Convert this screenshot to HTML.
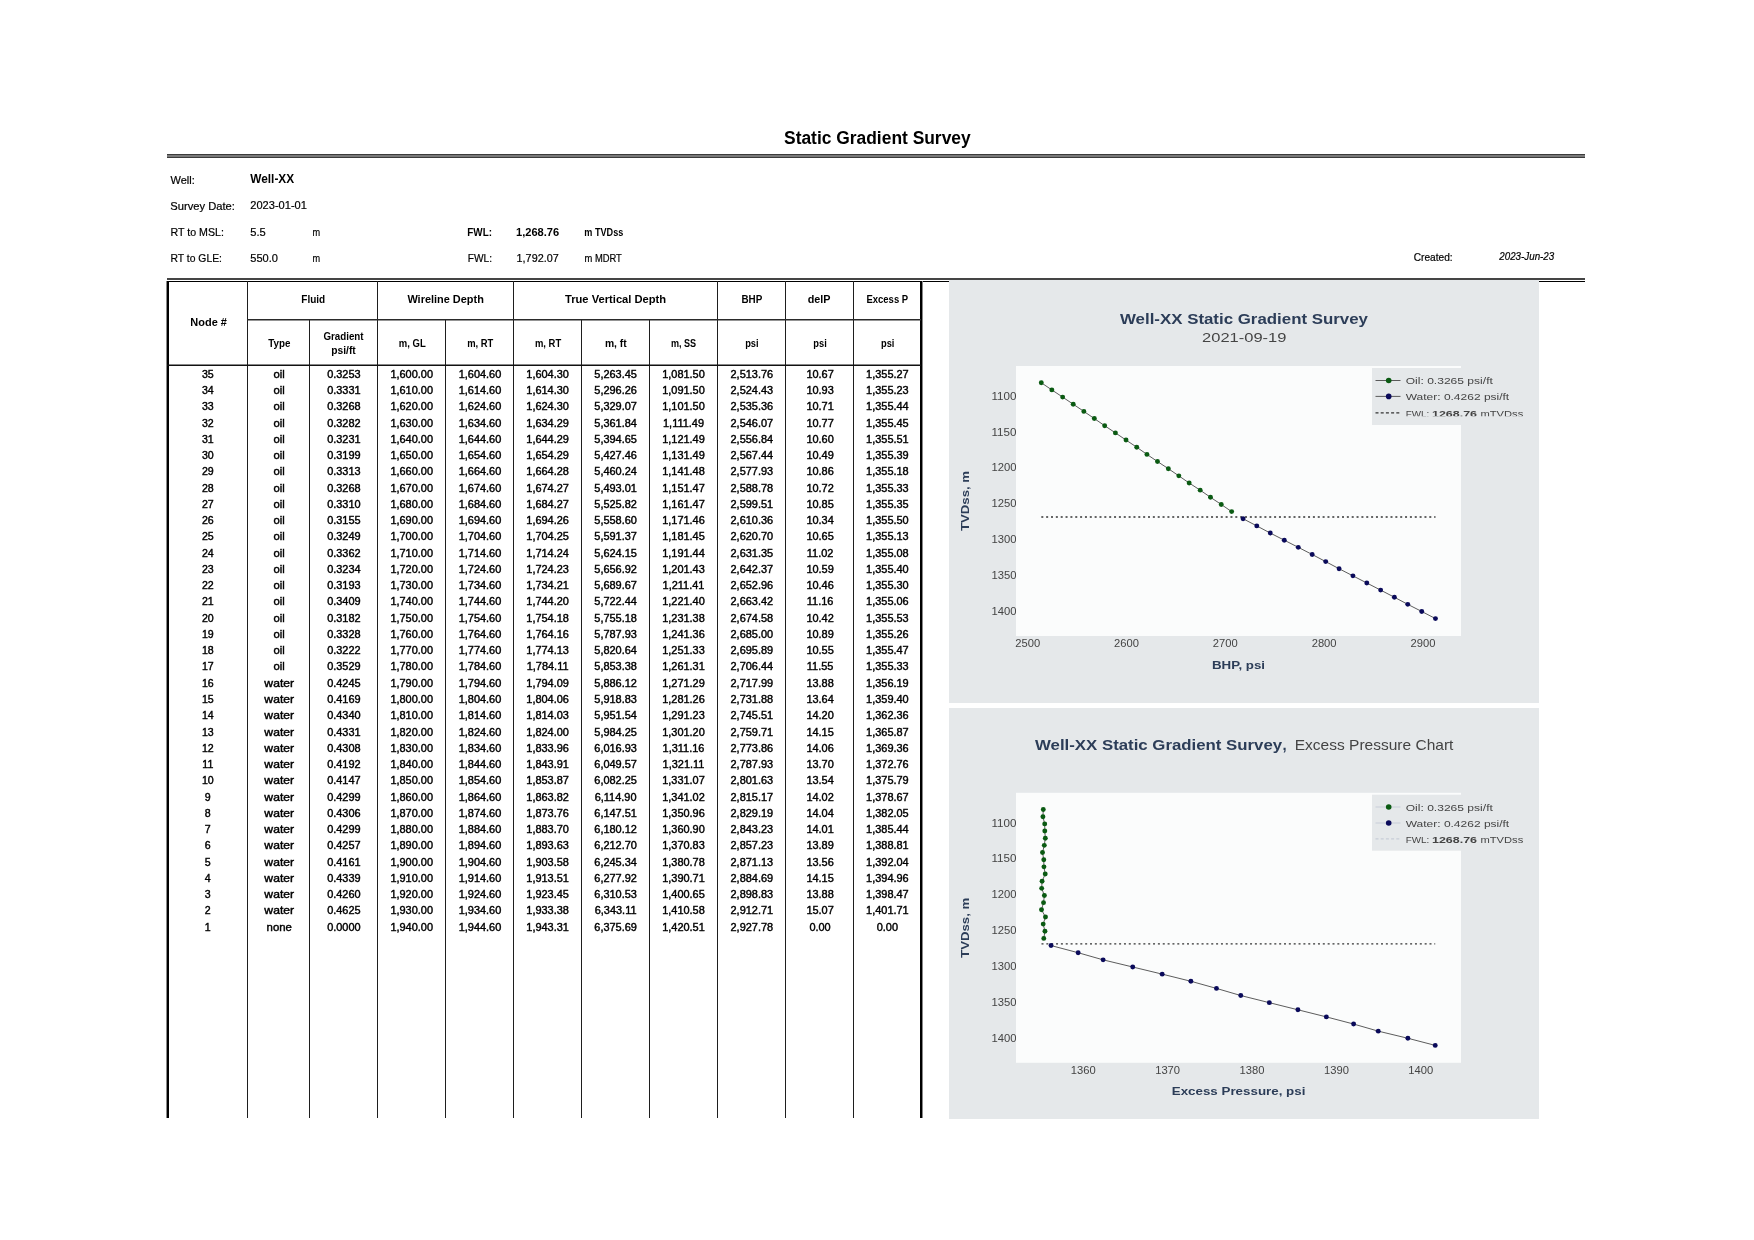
<!DOCTYPE html>
<html><head><meta charset="utf-8"><title>Static Gradient Survey</title>
<style>html,body{margin:0;padding:0;background:#fff;}svg{display:block;will-change:transform;}
text{font-family:"Liberation Sans",sans-serif;}</style></head>
<body><svg width="1754" height="1240" viewBox="0 0 1754 1240">
<rect x="0" y="0" width="1754" height="1240" fill="#fff"/>
<text x="784.05" y="144.20" font-size="18.8" font-weight="bold" font-style="normal" fill="#000" textLength="186.62" lengthAdjust="spacingAndGlyphs">Static Gradient Survey</text>
<rect x="167" y="154" width="1418" height="1" fill="#3c3c3c"/>
<rect x="167" y="155" width="1418" height="2" fill="#7a7a7a"/>
<rect x="167" y="157" width="1418" height="1" fill="#3c3c3c"/>
<text x="170.50" y="184.00" font-size="11" font-weight="normal" font-style="normal" fill="#000" stroke="#000" stroke-width="0.2">Well:</text>
<text x="250.30" y="183.20" font-size="12" font-weight="bold" font-style="normal" fill="#000" textLength="43.85" lengthAdjust="spacingAndGlyphs">Well-XX</text>
<text x="170.30" y="209.70" font-size="11" font-weight="normal" font-style="normal" fill="#000" textLength="64.60" lengthAdjust="spacingAndGlyphs" stroke="#000" stroke-width="0.2">Survey Date:</text>
<text x="250.30" y="209.20" font-size="11" font-weight="normal" font-style="normal" fill="#000" textLength="56.65" lengthAdjust="spacingAndGlyphs" stroke="#000" stroke-width="0.2">2023-01-01</text>
<text x="170.50" y="235.70" font-size="11" font-weight="normal" font-style="normal" fill="#000" textLength="53.40" lengthAdjust="spacingAndGlyphs" stroke="#000" stroke-width="0.2">RT to MSL:</text>
<text x="250.30" y="235.70" font-size="11" font-weight="normal" font-style="normal" fill="#000" textLength="15.50" lengthAdjust="spacingAndGlyphs" stroke="#000" stroke-width="0.2">5.5</text>
<text x="312.40" y="235.70" font-size="11" font-weight="normal" font-style="normal" fill="#000" textLength="7.63" lengthAdjust="spacingAndGlyphs" stroke="#000" stroke-width="0.2">m</text>
<text x="170.50" y="261.70" font-size="11" font-weight="normal" font-style="normal" fill="#000" textLength="51.45" lengthAdjust="spacingAndGlyphs" stroke="#000" stroke-width="0.2">RT to GLE:</text>
<text x="250.30" y="261.70" font-size="11" font-weight="normal" font-style="normal" fill="#000" textLength="27.72" lengthAdjust="spacingAndGlyphs" stroke="#000" stroke-width="0.2">550.0</text>
<text x="312.40" y="261.70" font-size="11" font-weight="normal" font-style="normal" fill="#000" textLength="7.63" lengthAdjust="spacingAndGlyphs" stroke="#000" stroke-width="0.2">m</text>
<text x="467.30" y="236.00" font-size="10.6" font-weight="bold" font-style="normal" fill="#000" textLength="24.68" lengthAdjust="spacingAndGlyphs">FWL:</text>
<text x="516.00" y="236.00" font-size="10.6" font-weight="bold" font-style="normal" fill="#000" textLength="43.22" lengthAdjust="spacingAndGlyphs">1,268.76</text>
<text x="584.30" y="235.50" font-size="10" font-weight="bold" font-style="normal" fill="#000" textLength="38.99" lengthAdjust="spacingAndGlyphs">m TVDss</text>
<text x="467.80" y="262.20" font-size="10.6" font-weight="normal" font-style="normal" fill="#000" textLength="24.19" lengthAdjust="spacingAndGlyphs" stroke="#000" stroke-width="0.2">FWL:</text>
<text x="516.60" y="262.20" font-size="10.6" font-weight="normal" font-style="normal" fill="#000" textLength="42.12" lengthAdjust="spacingAndGlyphs" stroke="#000" stroke-width="0.2">1,792.07</text>
<text x="584.50" y="261.80" font-size="10" font-weight="normal" font-style="normal" fill="#000" textLength="37.31" lengthAdjust="spacingAndGlyphs" stroke="#000" stroke-width="0.2">m MDRT</text>
<text x="1413.70" y="261.00" font-size="10.6" font-weight="normal" font-style="normal" fill="#000" textLength="38.95" lengthAdjust="spacingAndGlyphs" stroke="#000" stroke-width="0.2">Created:</text>
<text x="1499.30" y="260.20" font-size="10.6" font-weight="normal" font-style="italic" fill="#000" textLength="54.95" lengthAdjust="spacingAndGlyphs" stroke="#000" stroke-width="0.2">2023-Jun-23</text>
<rect x="167" y="278" width="1418" height="2" fill="#454545"/>
<rect x="166" y="281" width="783" height="1" fill="#000"/>
<rect x="1539" y="281" width="46" height="1" fill="#000"/>
<rect x="166" y="281" width="1" height="837" fill="#8a8a8a"/>
<rect x="167" y="281" width="2" height="837" fill="#000"/>
<rect x="920" y="281" width="2" height="837" fill="#000"/>
<rect x="922" y="281" width="1" height="837" fill="#888"/>
<rect x="247" y="281" width="1" height="837" fill="#1e1e1e"/>
<rect x="377" y="281" width="1" height="837" fill="#1e1e1e"/>
<rect x="513" y="281" width="1" height="837" fill="#1e1e1e"/>
<rect x="717" y="281" width="1" height="837" fill="#1e1e1e"/>
<rect x="785" y="281" width="1" height="837" fill="#1e1e1e"/>
<rect x="853" y="281" width="1" height="837" fill="#1e1e1e"/>
<rect x="309" y="319" width="1" height="799" fill="#1e1e1e"/>
<rect x="445" y="319" width="1" height="799" fill="#1e1e1e"/>
<rect x="581" y="319" width="1" height="799" fill="#1e1e1e"/>
<rect x="649" y="319" width="1" height="799" fill="#1e1e1e"/>
<rect x="247" y="319" width="674" height="1.5" fill="#2a2a2a"/>
<rect x="167" y="364.5" width="754" height="1.5" fill="#111"/>
<text x="190.35" y="326.00" font-size="10.2" font-weight="bold" font-style="normal" fill="#000" textLength="36.54" lengthAdjust="spacingAndGlyphs">Node #</text>
<text x="301.35" y="303.00" font-size="10.2" font-weight="bold" font-style="normal" fill="#000" textLength="23.88" lengthAdjust="spacingAndGlyphs">Fluid</text>
<text x="407.40" y="303.00" font-size="10.2" font-weight="bold" font-style="normal" fill="#000" textLength="76.42" lengthAdjust="spacingAndGlyphs">Wireline Depth</text>
<text x="565.00" y="303.00" font-size="10.2" font-weight="bold" font-style="normal" fill="#000" textLength="101.18" lengthAdjust="spacingAndGlyphs">True Vertical Depth</text>
<text x="741.50" y="303.00" font-size="10.2" font-weight="bold" font-style="normal" fill="#000" textLength="20.81" lengthAdjust="spacingAndGlyphs">BHP</text>
<text x="807.70" y="303.00" font-size="10.2" font-weight="bold" font-style="normal" fill="#000" textLength="22.82" lengthAdjust="spacingAndGlyphs">delP</text>
<text x="866.45" y="303.00" font-size="10.2" font-weight="bold" font-style="normal" fill="#000" textLength="41.72" lengthAdjust="spacingAndGlyphs">Excess P</text>
<text x="268.30" y="347.30" font-size="10.2" font-weight="bold" font-style="normal" fill="#000" textLength="22.20" lengthAdjust="spacingAndGlyphs">Type</text>
<text x="323.45" y="340.10" font-size="10.2" font-weight="bold" font-style="normal" fill="#000" textLength="40.12" lengthAdjust="spacingAndGlyphs">Gradient</text>
<text x="331.20" y="353.80" font-size="10.2" font-weight="bold" font-style="normal" fill="#000" textLength="24.58" lengthAdjust="spacingAndGlyphs">psi/ft</text>
<text x="398.85" y="347.20" font-size="10.2" font-weight="bold" font-style="normal" fill="#000" textLength="26.93" lengthAdjust="spacingAndGlyphs">m, GL</text>
<text x="467.20" y="347.20" font-size="10.2" font-weight="bold" font-style="normal" fill="#000" textLength="26.18" lengthAdjust="spacingAndGlyphs">m, RT</text>
<text x="534.95" y="347.20" font-size="10.2" font-weight="bold" font-style="normal" fill="#000" textLength="26.28" lengthAdjust="spacingAndGlyphs">m, RT</text>
<text x="604.90" y="347.20" font-size="10.2" font-weight="bold" font-style="normal" fill="#000" textLength="21.81" lengthAdjust="spacingAndGlyphs">m, ft</text>
<text x="670.90" y="347.20" font-size="10.2" font-weight="bold" font-style="normal" fill="#000" textLength="25.19" lengthAdjust="spacingAndGlyphs">m, SS</text>
<text x="745.20" y="347.20" font-size="10.2" font-weight="bold" font-style="normal" fill="#000" textLength="13.44" lengthAdjust="spacingAndGlyphs">psi</text>
<text x="813.30" y="347.20" font-size="10.2" font-weight="bold" font-style="normal" fill="#000" textLength="13.44" lengthAdjust="spacingAndGlyphs">psi</text>
<text x="881.00" y="347.20" font-size="10.2" font-weight="bold" font-style="normal" fill="#000" textLength="13.44" lengthAdjust="spacingAndGlyphs">psi</text>
<text x="201.92" y="377.80" font-size="10.6" font-weight="normal" font-style="normal" fill="#000" stroke="#000" stroke-width="0.4">35</text>
<text x="273.60" y="377.80" font-size="10.6" font-weight="normal" font-style="normal" fill="#000" textLength="11.21" lengthAdjust="spacingAndGlyphs" stroke="#000" stroke-width="0.4">oil</text>
<text x="327.15" y="377.80" font-size="10.6" font-weight="normal" font-style="normal" fill="#000" textLength="33.49" lengthAdjust="spacingAndGlyphs" stroke="#000" stroke-width="0.4">0.3253</text>
<text x="390.40" y="377.80" font-size="10.6" font-weight="normal" font-style="normal" fill="#000" textLength="42.62" lengthAdjust="spacingAndGlyphs" stroke="#000" stroke-width="0.4">1,600.00</text>
<text x="458.70" y="377.80" font-size="10.6" font-weight="normal" font-style="normal" fill="#000" textLength="42.62" lengthAdjust="spacingAndGlyphs" stroke="#000" stroke-width="0.4">1,604.60</text>
<text x="526.30" y="377.80" font-size="10.6" font-weight="normal" font-style="normal" fill="#000" textLength="42.62" lengthAdjust="spacingAndGlyphs" stroke="#000" stroke-width="0.4">1,604.30</text>
<text x="594.30" y="377.80" font-size="10.6" font-weight="normal" font-style="normal" fill="#000" textLength="42.62" lengthAdjust="spacingAndGlyphs" stroke="#000" stroke-width="0.4">5,263.45</text>
<text x="662.20" y="377.80" font-size="10.6" font-weight="normal" font-style="normal" fill="#000" textLength="42.62" lengthAdjust="spacingAndGlyphs" stroke="#000" stroke-width="0.4">1,081.50</text>
<text x="730.50" y="377.80" font-size="10.6" font-weight="normal" font-style="normal" fill="#000" textLength="42.62" lengthAdjust="spacingAndGlyphs" stroke="#000" stroke-width="0.4">2,513.76</text>
<text x="806.41" y="377.80" font-size="10.6" font-weight="normal" font-style="normal" fill="#000" textLength="27.40" lengthAdjust="spacingAndGlyphs" stroke="#000" stroke-width="0.4">10.67</text>
<text x="866.10" y="377.80" font-size="10.6" font-weight="normal" font-style="normal" fill="#000" textLength="42.62" lengthAdjust="spacingAndGlyphs" stroke="#000" stroke-width="0.4">1,355.27</text>
<text x="201.92" y="394.06" font-size="10.6" font-weight="normal" font-style="normal" fill="#000" stroke="#000" stroke-width="0.4">34</text>
<text x="273.60" y="394.06" font-size="10.6" font-weight="normal" font-style="normal" fill="#000" textLength="11.21" lengthAdjust="spacingAndGlyphs" stroke="#000" stroke-width="0.4">oil</text>
<text x="327.15" y="394.06" font-size="10.6" font-weight="normal" font-style="normal" fill="#000" textLength="33.49" lengthAdjust="spacingAndGlyphs" stroke="#000" stroke-width="0.4">0.3331</text>
<text x="390.40" y="394.06" font-size="10.6" font-weight="normal" font-style="normal" fill="#000" textLength="42.62" lengthAdjust="spacingAndGlyphs" stroke="#000" stroke-width="0.4">1,610.00</text>
<text x="458.70" y="394.06" font-size="10.6" font-weight="normal" font-style="normal" fill="#000" textLength="42.62" lengthAdjust="spacingAndGlyphs" stroke="#000" stroke-width="0.4">1,614.60</text>
<text x="526.30" y="394.06" font-size="10.6" font-weight="normal" font-style="normal" fill="#000" textLength="42.62" lengthAdjust="spacingAndGlyphs" stroke="#000" stroke-width="0.4">1,614.30</text>
<text x="594.30" y="394.06" font-size="10.6" font-weight="normal" font-style="normal" fill="#000" textLength="42.62" lengthAdjust="spacingAndGlyphs" stroke="#000" stroke-width="0.4">5,296.26</text>
<text x="662.20" y="394.06" font-size="10.6" font-weight="normal" font-style="normal" fill="#000" textLength="42.62" lengthAdjust="spacingAndGlyphs" stroke="#000" stroke-width="0.4">1,091.50</text>
<text x="730.50" y="394.06" font-size="10.6" font-weight="normal" font-style="normal" fill="#000" textLength="42.62" lengthAdjust="spacingAndGlyphs" stroke="#000" stroke-width="0.4">2,524.43</text>
<text x="806.41" y="394.06" font-size="10.6" font-weight="normal" font-style="normal" fill="#000" textLength="27.40" lengthAdjust="spacingAndGlyphs" stroke="#000" stroke-width="0.4">10.93</text>
<text x="866.10" y="394.06" font-size="10.6" font-weight="normal" font-style="normal" fill="#000" textLength="42.62" lengthAdjust="spacingAndGlyphs" stroke="#000" stroke-width="0.4">1,355.23</text>
<text x="201.92" y="410.32" font-size="10.6" font-weight="normal" font-style="normal" fill="#000" stroke="#000" stroke-width="0.4">33</text>
<text x="273.60" y="410.32" font-size="10.6" font-weight="normal" font-style="normal" fill="#000" textLength="11.21" lengthAdjust="spacingAndGlyphs" stroke="#000" stroke-width="0.4">oil</text>
<text x="327.15" y="410.32" font-size="10.6" font-weight="normal" font-style="normal" fill="#000" textLength="33.49" lengthAdjust="spacingAndGlyphs" stroke="#000" stroke-width="0.4">0.3268</text>
<text x="390.40" y="410.32" font-size="10.6" font-weight="normal" font-style="normal" fill="#000" textLength="42.62" lengthAdjust="spacingAndGlyphs" stroke="#000" stroke-width="0.4">1,620.00</text>
<text x="458.70" y="410.32" font-size="10.6" font-weight="normal" font-style="normal" fill="#000" textLength="42.62" lengthAdjust="spacingAndGlyphs" stroke="#000" stroke-width="0.4">1,624.60</text>
<text x="526.30" y="410.32" font-size="10.6" font-weight="normal" font-style="normal" fill="#000" textLength="42.62" lengthAdjust="spacingAndGlyphs" stroke="#000" stroke-width="0.4">1,624.30</text>
<text x="594.30" y="410.32" font-size="10.6" font-weight="normal" font-style="normal" fill="#000" textLength="42.62" lengthAdjust="spacingAndGlyphs" stroke="#000" stroke-width="0.4">5,329.07</text>
<text x="662.20" y="410.32" font-size="10.6" font-weight="normal" font-style="normal" fill="#000" textLength="42.62" lengthAdjust="spacingAndGlyphs" stroke="#000" stroke-width="0.4">1,101.50</text>
<text x="730.50" y="410.32" font-size="10.6" font-weight="normal" font-style="normal" fill="#000" textLength="42.62" lengthAdjust="spacingAndGlyphs" stroke="#000" stroke-width="0.4">2,535.36</text>
<text x="806.41" y="410.32" font-size="10.6" font-weight="normal" font-style="normal" fill="#000" textLength="27.40" lengthAdjust="spacingAndGlyphs" stroke="#000" stroke-width="0.4">10.71</text>
<text x="866.10" y="410.32" font-size="10.6" font-weight="normal" font-style="normal" fill="#000" textLength="42.62" lengthAdjust="spacingAndGlyphs" stroke="#000" stroke-width="0.4">1,355.44</text>
<text x="201.92" y="426.58" font-size="10.6" font-weight="normal" font-style="normal" fill="#000" stroke="#000" stroke-width="0.4">32</text>
<text x="273.60" y="426.58" font-size="10.6" font-weight="normal" font-style="normal" fill="#000" textLength="11.21" lengthAdjust="spacingAndGlyphs" stroke="#000" stroke-width="0.4">oil</text>
<text x="327.15" y="426.58" font-size="10.6" font-weight="normal" font-style="normal" fill="#000" textLength="33.49" lengthAdjust="spacingAndGlyphs" stroke="#000" stroke-width="0.4">0.3282</text>
<text x="390.40" y="426.58" font-size="10.6" font-weight="normal" font-style="normal" fill="#000" textLength="42.62" lengthAdjust="spacingAndGlyphs" stroke="#000" stroke-width="0.4">1,630.00</text>
<text x="458.70" y="426.58" font-size="10.6" font-weight="normal" font-style="normal" fill="#000" textLength="42.62" lengthAdjust="spacingAndGlyphs" stroke="#000" stroke-width="0.4">1,634.60</text>
<text x="526.30" y="426.58" font-size="10.6" font-weight="normal" font-style="normal" fill="#000" textLength="42.62" lengthAdjust="spacingAndGlyphs" stroke="#000" stroke-width="0.4">1,634.29</text>
<text x="594.30" y="426.58" font-size="10.6" font-weight="normal" font-style="normal" fill="#000" textLength="42.62" lengthAdjust="spacingAndGlyphs" stroke="#000" stroke-width="0.4">5,361.84</text>
<text x="663.02" y="426.58" font-size="10.6" font-weight="normal" font-style="normal" fill="#000" textLength="40.99" lengthAdjust="spacingAndGlyphs" stroke="#000" stroke-width="0.4">1,111.49</text>
<text x="730.50" y="426.58" font-size="10.6" font-weight="normal" font-style="normal" fill="#000" textLength="42.62" lengthAdjust="spacingAndGlyphs" stroke="#000" stroke-width="0.4">2,546.07</text>
<text x="806.41" y="426.58" font-size="10.6" font-weight="normal" font-style="normal" fill="#000" textLength="27.40" lengthAdjust="spacingAndGlyphs" stroke="#000" stroke-width="0.4">10.77</text>
<text x="866.10" y="426.58" font-size="10.6" font-weight="normal" font-style="normal" fill="#000" textLength="42.62" lengthAdjust="spacingAndGlyphs" stroke="#000" stroke-width="0.4">1,355.45</text>
<text x="201.92" y="442.84" font-size="10.6" font-weight="normal" font-style="normal" fill="#000" stroke="#000" stroke-width="0.4">31</text>
<text x="273.60" y="442.84" font-size="10.6" font-weight="normal" font-style="normal" fill="#000" textLength="11.21" lengthAdjust="spacingAndGlyphs" stroke="#000" stroke-width="0.4">oil</text>
<text x="327.15" y="442.84" font-size="10.6" font-weight="normal" font-style="normal" fill="#000" textLength="33.49" lengthAdjust="spacingAndGlyphs" stroke="#000" stroke-width="0.4">0.3231</text>
<text x="390.40" y="442.84" font-size="10.6" font-weight="normal" font-style="normal" fill="#000" textLength="42.62" lengthAdjust="spacingAndGlyphs" stroke="#000" stroke-width="0.4">1,640.00</text>
<text x="458.70" y="442.84" font-size="10.6" font-weight="normal" font-style="normal" fill="#000" textLength="42.62" lengthAdjust="spacingAndGlyphs" stroke="#000" stroke-width="0.4">1,644.60</text>
<text x="526.30" y="442.84" font-size="10.6" font-weight="normal" font-style="normal" fill="#000" textLength="42.62" lengthAdjust="spacingAndGlyphs" stroke="#000" stroke-width="0.4">1,644.29</text>
<text x="594.30" y="442.84" font-size="10.6" font-weight="normal" font-style="normal" fill="#000" textLength="42.62" lengthAdjust="spacingAndGlyphs" stroke="#000" stroke-width="0.4">5,394.65</text>
<text x="662.20" y="442.84" font-size="10.6" font-weight="normal" font-style="normal" fill="#000" textLength="42.62" lengthAdjust="spacingAndGlyphs" stroke="#000" stroke-width="0.4">1,121.49</text>
<text x="730.50" y="442.84" font-size="10.6" font-weight="normal" font-style="normal" fill="#000" textLength="42.62" lengthAdjust="spacingAndGlyphs" stroke="#000" stroke-width="0.4">2,556.84</text>
<text x="806.41" y="442.84" font-size="10.6" font-weight="normal" font-style="normal" fill="#000" textLength="27.40" lengthAdjust="spacingAndGlyphs" stroke="#000" stroke-width="0.4">10.60</text>
<text x="866.10" y="442.84" font-size="10.6" font-weight="normal" font-style="normal" fill="#000" textLength="42.62" lengthAdjust="spacingAndGlyphs" stroke="#000" stroke-width="0.4">1,355.51</text>
<text x="201.92" y="459.10" font-size="10.6" font-weight="normal" font-style="normal" fill="#000" stroke="#000" stroke-width="0.4">30</text>
<text x="273.60" y="459.10" font-size="10.6" font-weight="normal" font-style="normal" fill="#000" textLength="11.21" lengthAdjust="spacingAndGlyphs" stroke="#000" stroke-width="0.4">oil</text>
<text x="327.15" y="459.10" font-size="10.6" font-weight="normal" font-style="normal" fill="#000" textLength="33.49" lengthAdjust="spacingAndGlyphs" stroke="#000" stroke-width="0.4">0.3199</text>
<text x="390.40" y="459.10" font-size="10.6" font-weight="normal" font-style="normal" fill="#000" textLength="42.62" lengthAdjust="spacingAndGlyphs" stroke="#000" stroke-width="0.4">1,650.00</text>
<text x="458.70" y="459.10" font-size="10.6" font-weight="normal" font-style="normal" fill="#000" textLength="42.62" lengthAdjust="spacingAndGlyphs" stroke="#000" stroke-width="0.4">1,654.60</text>
<text x="526.30" y="459.10" font-size="10.6" font-weight="normal" font-style="normal" fill="#000" textLength="42.62" lengthAdjust="spacingAndGlyphs" stroke="#000" stroke-width="0.4">1,654.29</text>
<text x="594.30" y="459.10" font-size="10.6" font-weight="normal" font-style="normal" fill="#000" textLength="42.62" lengthAdjust="spacingAndGlyphs" stroke="#000" stroke-width="0.4">5,427.46</text>
<text x="662.20" y="459.10" font-size="10.6" font-weight="normal" font-style="normal" fill="#000" textLength="42.62" lengthAdjust="spacingAndGlyphs" stroke="#000" stroke-width="0.4">1,131.49</text>
<text x="730.50" y="459.10" font-size="10.6" font-weight="normal" font-style="normal" fill="#000" textLength="42.62" lengthAdjust="spacingAndGlyphs" stroke="#000" stroke-width="0.4">2,567.44</text>
<text x="806.41" y="459.10" font-size="10.6" font-weight="normal" font-style="normal" fill="#000" textLength="27.40" lengthAdjust="spacingAndGlyphs" stroke="#000" stroke-width="0.4">10.49</text>
<text x="866.10" y="459.10" font-size="10.6" font-weight="normal" font-style="normal" fill="#000" textLength="42.62" lengthAdjust="spacingAndGlyphs" stroke="#000" stroke-width="0.4">1,355.39</text>
<text x="201.92" y="475.36" font-size="10.6" font-weight="normal" font-style="normal" fill="#000" stroke="#000" stroke-width="0.4">29</text>
<text x="273.60" y="475.36" font-size="10.6" font-weight="normal" font-style="normal" fill="#000" textLength="11.21" lengthAdjust="spacingAndGlyphs" stroke="#000" stroke-width="0.4">oil</text>
<text x="327.15" y="475.36" font-size="10.6" font-weight="normal" font-style="normal" fill="#000" textLength="33.49" lengthAdjust="spacingAndGlyphs" stroke="#000" stroke-width="0.4">0.3313</text>
<text x="390.40" y="475.36" font-size="10.6" font-weight="normal" font-style="normal" fill="#000" textLength="42.62" lengthAdjust="spacingAndGlyphs" stroke="#000" stroke-width="0.4">1,660.00</text>
<text x="458.70" y="475.36" font-size="10.6" font-weight="normal" font-style="normal" fill="#000" textLength="42.62" lengthAdjust="spacingAndGlyphs" stroke="#000" stroke-width="0.4">1,664.60</text>
<text x="526.30" y="475.36" font-size="10.6" font-weight="normal" font-style="normal" fill="#000" textLength="42.62" lengthAdjust="spacingAndGlyphs" stroke="#000" stroke-width="0.4">1,664.28</text>
<text x="594.30" y="475.36" font-size="10.6" font-weight="normal" font-style="normal" fill="#000" textLength="42.62" lengthAdjust="spacingAndGlyphs" stroke="#000" stroke-width="0.4">5,460.24</text>
<text x="662.20" y="475.36" font-size="10.6" font-weight="normal" font-style="normal" fill="#000" textLength="42.62" lengthAdjust="spacingAndGlyphs" stroke="#000" stroke-width="0.4">1,141.48</text>
<text x="730.50" y="475.36" font-size="10.6" font-weight="normal" font-style="normal" fill="#000" textLength="42.62" lengthAdjust="spacingAndGlyphs" stroke="#000" stroke-width="0.4">2,577.93</text>
<text x="806.41" y="475.36" font-size="10.6" font-weight="normal" font-style="normal" fill="#000" textLength="27.40" lengthAdjust="spacingAndGlyphs" stroke="#000" stroke-width="0.4">10.86</text>
<text x="866.10" y="475.36" font-size="10.6" font-weight="normal" font-style="normal" fill="#000" textLength="42.62" lengthAdjust="spacingAndGlyphs" stroke="#000" stroke-width="0.4">1,355.18</text>
<text x="201.92" y="491.62" font-size="10.6" font-weight="normal" font-style="normal" fill="#000" stroke="#000" stroke-width="0.4">28</text>
<text x="273.60" y="491.62" font-size="10.6" font-weight="normal" font-style="normal" fill="#000" textLength="11.21" lengthAdjust="spacingAndGlyphs" stroke="#000" stroke-width="0.4">oil</text>
<text x="327.15" y="491.62" font-size="10.6" font-weight="normal" font-style="normal" fill="#000" textLength="33.49" lengthAdjust="spacingAndGlyphs" stroke="#000" stroke-width="0.4">0.3268</text>
<text x="390.40" y="491.62" font-size="10.6" font-weight="normal" font-style="normal" fill="#000" textLength="42.62" lengthAdjust="spacingAndGlyphs" stroke="#000" stroke-width="0.4">1,670.00</text>
<text x="458.70" y="491.62" font-size="10.6" font-weight="normal" font-style="normal" fill="#000" textLength="42.62" lengthAdjust="spacingAndGlyphs" stroke="#000" stroke-width="0.4">1,674.60</text>
<text x="526.30" y="491.62" font-size="10.6" font-weight="normal" font-style="normal" fill="#000" textLength="42.62" lengthAdjust="spacingAndGlyphs" stroke="#000" stroke-width="0.4">1,674.27</text>
<text x="594.30" y="491.62" font-size="10.6" font-weight="normal" font-style="normal" fill="#000" textLength="42.62" lengthAdjust="spacingAndGlyphs" stroke="#000" stroke-width="0.4">5,493.01</text>
<text x="662.20" y="491.62" font-size="10.6" font-weight="normal" font-style="normal" fill="#000" textLength="42.62" lengthAdjust="spacingAndGlyphs" stroke="#000" stroke-width="0.4">1,151.47</text>
<text x="730.50" y="491.62" font-size="10.6" font-weight="normal" font-style="normal" fill="#000" textLength="42.62" lengthAdjust="spacingAndGlyphs" stroke="#000" stroke-width="0.4">2,588.78</text>
<text x="806.41" y="491.62" font-size="10.6" font-weight="normal" font-style="normal" fill="#000" textLength="27.40" lengthAdjust="spacingAndGlyphs" stroke="#000" stroke-width="0.4">10.72</text>
<text x="866.10" y="491.62" font-size="10.6" font-weight="normal" font-style="normal" fill="#000" textLength="42.62" lengthAdjust="spacingAndGlyphs" stroke="#000" stroke-width="0.4">1,355.33</text>
<text x="201.92" y="507.88" font-size="10.6" font-weight="normal" font-style="normal" fill="#000" stroke="#000" stroke-width="0.4">27</text>
<text x="273.60" y="507.88" font-size="10.6" font-weight="normal" font-style="normal" fill="#000" textLength="11.21" lengthAdjust="spacingAndGlyphs" stroke="#000" stroke-width="0.4">oil</text>
<text x="327.15" y="507.88" font-size="10.6" font-weight="normal" font-style="normal" fill="#000" textLength="33.49" lengthAdjust="spacingAndGlyphs" stroke="#000" stroke-width="0.4">0.3310</text>
<text x="390.40" y="507.88" font-size="10.6" font-weight="normal" font-style="normal" fill="#000" textLength="42.62" lengthAdjust="spacingAndGlyphs" stroke="#000" stroke-width="0.4">1,680.00</text>
<text x="458.70" y="507.88" font-size="10.6" font-weight="normal" font-style="normal" fill="#000" textLength="42.62" lengthAdjust="spacingAndGlyphs" stroke="#000" stroke-width="0.4">1,684.60</text>
<text x="526.30" y="507.88" font-size="10.6" font-weight="normal" font-style="normal" fill="#000" textLength="42.62" lengthAdjust="spacingAndGlyphs" stroke="#000" stroke-width="0.4">1,684.27</text>
<text x="594.30" y="507.88" font-size="10.6" font-weight="normal" font-style="normal" fill="#000" textLength="42.62" lengthAdjust="spacingAndGlyphs" stroke="#000" stroke-width="0.4">5,525.82</text>
<text x="662.20" y="507.88" font-size="10.6" font-weight="normal" font-style="normal" fill="#000" textLength="42.62" lengthAdjust="spacingAndGlyphs" stroke="#000" stroke-width="0.4">1,161.47</text>
<text x="730.50" y="507.88" font-size="10.6" font-weight="normal" font-style="normal" fill="#000" textLength="42.62" lengthAdjust="spacingAndGlyphs" stroke="#000" stroke-width="0.4">2,599.51</text>
<text x="806.41" y="507.88" font-size="10.6" font-weight="normal" font-style="normal" fill="#000" textLength="27.40" lengthAdjust="spacingAndGlyphs" stroke="#000" stroke-width="0.4">10.85</text>
<text x="866.10" y="507.88" font-size="10.6" font-weight="normal" font-style="normal" fill="#000" textLength="42.62" lengthAdjust="spacingAndGlyphs" stroke="#000" stroke-width="0.4">1,355.35</text>
<text x="201.92" y="524.14" font-size="10.6" font-weight="normal" font-style="normal" fill="#000" stroke="#000" stroke-width="0.4">26</text>
<text x="273.60" y="524.14" font-size="10.6" font-weight="normal" font-style="normal" fill="#000" textLength="11.21" lengthAdjust="spacingAndGlyphs" stroke="#000" stroke-width="0.4">oil</text>
<text x="327.15" y="524.14" font-size="10.6" font-weight="normal" font-style="normal" fill="#000" textLength="33.49" lengthAdjust="spacingAndGlyphs" stroke="#000" stroke-width="0.4">0.3155</text>
<text x="390.40" y="524.14" font-size="10.6" font-weight="normal" font-style="normal" fill="#000" textLength="42.62" lengthAdjust="spacingAndGlyphs" stroke="#000" stroke-width="0.4">1,690.00</text>
<text x="458.70" y="524.14" font-size="10.6" font-weight="normal" font-style="normal" fill="#000" textLength="42.62" lengthAdjust="spacingAndGlyphs" stroke="#000" stroke-width="0.4">1,694.60</text>
<text x="526.30" y="524.14" font-size="10.6" font-weight="normal" font-style="normal" fill="#000" textLength="42.62" lengthAdjust="spacingAndGlyphs" stroke="#000" stroke-width="0.4">1,694.26</text>
<text x="594.30" y="524.14" font-size="10.6" font-weight="normal" font-style="normal" fill="#000" textLength="42.62" lengthAdjust="spacingAndGlyphs" stroke="#000" stroke-width="0.4">5,558.60</text>
<text x="662.20" y="524.14" font-size="10.6" font-weight="normal" font-style="normal" fill="#000" textLength="42.62" lengthAdjust="spacingAndGlyphs" stroke="#000" stroke-width="0.4">1,171.46</text>
<text x="730.50" y="524.14" font-size="10.6" font-weight="normal" font-style="normal" fill="#000" textLength="42.62" lengthAdjust="spacingAndGlyphs" stroke="#000" stroke-width="0.4">2,610.36</text>
<text x="806.41" y="524.14" font-size="10.6" font-weight="normal" font-style="normal" fill="#000" textLength="27.40" lengthAdjust="spacingAndGlyphs" stroke="#000" stroke-width="0.4">10.34</text>
<text x="866.10" y="524.14" font-size="10.6" font-weight="normal" font-style="normal" fill="#000" textLength="42.62" lengthAdjust="spacingAndGlyphs" stroke="#000" stroke-width="0.4">1,355.50</text>
<text x="201.92" y="540.40" font-size="10.6" font-weight="normal" font-style="normal" fill="#000" stroke="#000" stroke-width="0.4">25</text>
<text x="273.60" y="540.40" font-size="10.6" font-weight="normal" font-style="normal" fill="#000" textLength="11.21" lengthAdjust="spacingAndGlyphs" stroke="#000" stroke-width="0.4">oil</text>
<text x="327.15" y="540.40" font-size="10.6" font-weight="normal" font-style="normal" fill="#000" textLength="33.49" lengthAdjust="spacingAndGlyphs" stroke="#000" stroke-width="0.4">0.3249</text>
<text x="390.40" y="540.40" font-size="10.6" font-weight="normal" font-style="normal" fill="#000" textLength="42.62" lengthAdjust="spacingAndGlyphs" stroke="#000" stroke-width="0.4">1,700.00</text>
<text x="458.70" y="540.40" font-size="10.6" font-weight="normal" font-style="normal" fill="#000" textLength="42.62" lengthAdjust="spacingAndGlyphs" stroke="#000" stroke-width="0.4">1,704.60</text>
<text x="526.30" y="540.40" font-size="10.6" font-weight="normal" font-style="normal" fill="#000" textLength="42.62" lengthAdjust="spacingAndGlyphs" stroke="#000" stroke-width="0.4">1,704.25</text>
<text x="594.30" y="540.40" font-size="10.6" font-weight="normal" font-style="normal" fill="#000" textLength="42.62" lengthAdjust="spacingAndGlyphs" stroke="#000" stroke-width="0.4">5,591.37</text>
<text x="662.20" y="540.40" font-size="10.6" font-weight="normal" font-style="normal" fill="#000" textLength="42.62" lengthAdjust="spacingAndGlyphs" stroke="#000" stroke-width="0.4">1,181.45</text>
<text x="730.50" y="540.40" font-size="10.6" font-weight="normal" font-style="normal" fill="#000" textLength="42.62" lengthAdjust="spacingAndGlyphs" stroke="#000" stroke-width="0.4">2,620.70</text>
<text x="806.41" y="540.40" font-size="10.6" font-weight="normal" font-style="normal" fill="#000" textLength="27.40" lengthAdjust="spacingAndGlyphs" stroke="#000" stroke-width="0.4">10.65</text>
<text x="866.10" y="540.40" font-size="10.6" font-weight="normal" font-style="normal" fill="#000" textLength="42.62" lengthAdjust="spacingAndGlyphs" stroke="#000" stroke-width="0.4">1,355.13</text>
<text x="201.92" y="556.66" font-size="10.6" font-weight="normal" font-style="normal" fill="#000" stroke="#000" stroke-width="0.4">24</text>
<text x="273.60" y="556.66" font-size="10.6" font-weight="normal" font-style="normal" fill="#000" textLength="11.21" lengthAdjust="spacingAndGlyphs" stroke="#000" stroke-width="0.4">oil</text>
<text x="327.15" y="556.66" font-size="10.6" font-weight="normal" font-style="normal" fill="#000" textLength="33.49" lengthAdjust="spacingAndGlyphs" stroke="#000" stroke-width="0.4">0.3362</text>
<text x="390.40" y="556.66" font-size="10.6" font-weight="normal" font-style="normal" fill="#000" textLength="42.62" lengthAdjust="spacingAndGlyphs" stroke="#000" stroke-width="0.4">1,710.00</text>
<text x="458.70" y="556.66" font-size="10.6" font-weight="normal" font-style="normal" fill="#000" textLength="42.62" lengthAdjust="spacingAndGlyphs" stroke="#000" stroke-width="0.4">1,714.60</text>
<text x="526.30" y="556.66" font-size="10.6" font-weight="normal" font-style="normal" fill="#000" textLength="42.62" lengthAdjust="spacingAndGlyphs" stroke="#000" stroke-width="0.4">1,714.24</text>
<text x="594.30" y="556.66" font-size="10.6" font-weight="normal" font-style="normal" fill="#000" textLength="42.62" lengthAdjust="spacingAndGlyphs" stroke="#000" stroke-width="0.4">5,624.15</text>
<text x="662.20" y="556.66" font-size="10.6" font-weight="normal" font-style="normal" fill="#000" textLength="42.62" lengthAdjust="spacingAndGlyphs" stroke="#000" stroke-width="0.4">1,191.44</text>
<text x="730.50" y="556.66" font-size="10.6" font-weight="normal" font-style="normal" fill="#000" textLength="42.62" lengthAdjust="spacingAndGlyphs" stroke="#000" stroke-width="0.4">2,631.35</text>
<text x="806.80" y="556.66" font-size="10.6" font-weight="normal" font-style="normal" fill="#000" textLength="26.59" lengthAdjust="spacingAndGlyphs" stroke="#000" stroke-width="0.4">11.02</text>
<text x="866.10" y="556.66" font-size="10.6" font-weight="normal" font-style="normal" fill="#000" textLength="42.62" lengthAdjust="spacingAndGlyphs" stroke="#000" stroke-width="0.4">1,355.08</text>
<text x="201.92" y="572.92" font-size="10.6" font-weight="normal" font-style="normal" fill="#000" stroke="#000" stroke-width="0.4">23</text>
<text x="273.60" y="572.92" font-size="10.6" font-weight="normal" font-style="normal" fill="#000" textLength="11.21" lengthAdjust="spacingAndGlyphs" stroke="#000" stroke-width="0.4">oil</text>
<text x="327.15" y="572.92" font-size="10.6" font-weight="normal" font-style="normal" fill="#000" textLength="33.49" lengthAdjust="spacingAndGlyphs" stroke="#000" stroke-width="0.4">0.3234</text>
<text x="390.40" y="572.92" font-size="10.6" font-weight="normal" font-style="normal" fill="#000" textLength="42.62" lengthAdjust="spacingAndGlyphs" stroke="#000" stroke-width="0.4">1,720.00</text>
<text x="458.70" y="572.92" font-size="10.6" font-weight="normal" font-style="normal" fill="#000" textLength="42.62" lengthAdjust="spacingAndGlyphs" stroke="#000" stroke-width="0.4">1,724.60</text>
<text x="526.30" y="572.92" font-size="10.6" font-weight="normal" font-style="normal" fill="#000" textLength="42.62" lengthAdjust="spacingAndGlyphs" stroke="#000" stroke-width="0.4">1,724.23</text>
<text x="594.30" y="572.92" font-size="10.6" font-weight="normal" font-style="normal" fill="#000" textLength="42.62" lengthAdjust="spacingAndGlyphs" stroke="#000" stroke-width="0.4">5,656.92</text>
<text x="662.20" y="572.92" font-size="10.6" font-weight="normal" font-style="normal" fill="#000" textLength="42.62" lengthAdjust="spacingAndGlyphs" stroke="#000" stroke-width="0.4">1,201.43</text>
<text x="730.50" y="572.92" font-size="10.6" font-weight="normal" font-style="normal" fill="#000" textLength="42.62" lengthAdjust="spacingAndGlyphs" stroke="#000" stroke-width="0.4">2,642.37</text>
<text x="806.41" y="572.92" font-size="10.6" font-weight="normal" font-style="normal" fill="#000" textLength="27.40" lengthAdjust="spacingAndGlyphs" stroke="#000" stroke-width="0.4">10.59</text>
<text x="866.10" y="572.92" font-size="10.6" font-weight="normal" font-style="normal" fill="#000" textLength="42.62" lengthAdjust="spacingAndGlyphs" stroke="#000" stroke-width="0.4">1,355.40</text>
<text x="201.92" y="589.18" font-size="10.6" font-weight="normal" font-style="normal" fill="#000" stroke="#000" stroke-width="0.4">22</text>
<text x="273.60" y="589.18" font-size="10.6" font-weight="normal" font-style="normal" fill="#000" textLength="11.21" lengthAdjust="spacingAndGlyphs" stroke="#000" stroke-width="0.4">oil</text>
<text x="327.15" y="589.18" font-size="10.6" font-weight="normal" font-style="normal" fill="#000" textLength="33.49" lengthAdjust="spacingAndGlyphs" stroke="#000" stroke-width="0.4">0.3193</text>
<text x="390.40" y="589.18" font-size="10.6" font-weight="normal" font-style="normal" fill="#000" textLength="42.62" lengthAdjust="spacingAndGlyphs" stroke="#000" stroke-width="0.4">1,730.00</text>
<text x="458.70" y="589.18" font-size="10.6" font-weight="normal" font-style="normal" fill="#000" textLength="42.62" lengthAdjust="spacingAndGlyphs" stroke="#000" stroke-width="0.4">1,734.60</text>
<text x="526.30" y="589.18" font-size="10.6" font-weight="normal" font-style="normal" fill="#000" textLength="42.62" lengthAdjust="spacingAndGlyphs" stroke="#000" stroke-width="0.4">1,734.21</text>
<text x="594.30" y="589.18" font-size="10.6" font-weight="normal" font-style="normal" fill="#000" textLength="42.62" lengthAdjust="spacingAndGlyphs" stroke="#000" stroke-width="0.4">5,689.67</text>
<text x="662.59" y="589.18" font-size="10.6" font-weight="normal" font-style="normal" fill="#000" textLength="41.81" lengthAdjust="spacingAndGlyphs" stroke="#000" stroke-width="0.4">1,211.41</text>
<text x="730.50" y="589.18" font-size="10.6" font-weight="normal" font-style="normal" fill="#000" textLength="42.62" lengthAdjust="spacingAndGlyphs" stroke="#000" stroke-width="0.4">2,652.96</text>
<text x="806.41" y="589.18" font-size="10.6" font-weight="normal" font-style="normal" fill="#000" textLength="27.40" lengthAdjust="spacingAndGlyphs" stroke="#000" stroke-width="0.4">10.46</text>
<text x="866.10" y="589.18" font-size="10.6" font-weight="normal" font-style="normal" fill="#000" textLength="42.62" lengthAdjust="spacingAndGlyphs" stroke="#000" stroke-width="0.4">1,355.30</text>
<text x="201.92" y="605.44" font-size="10.6" font-weight="normal" font-style="normal" fill="#000" stroke="#000" stroke-width="0.4">21</text>
<text x="273.60" y="605.44" font-size="10.6" font-weight="normal" font-style="normal" fill="#000" textLength="11.21" lengthAdjust="spacingAndGlyphs" stroke="#000" stroke-width="0.4">oil</text>
<text x="327.15" y="605.44" font-size="10.6" font-weight="normal" font-style="normal" fill="#000" textLength="33.49" lengthAdjust="spacingAndGlyphs" stroke="#000" stroke-width="0.4">0.3409</text>
<text x="390.40" y="605.44" font-size="10.6" font-weight="normal" font-style="normal" fill="#000" textLength="42.62" lengthAdjust="spacingAndGlyphs" stroke="#000" stroke-width="0.4">1,740.00</text>
<text x="458.70" y="605.44" font-size="10.6" font-weight="normal" font-style="normal" fill="#000" textLength="42.62" lengthAdjust="spacingAndGlyphs" stroke="#000" stroke-width="0.4">1,744.60</text>
<text x="526.30" y="605.44" font-size="10.6" font-weight="normal" font-style="normal" fill="#000" textLength="42.62" lengthAdjust="spacingAndGlyphs" stroke="#000" stroke-width="0.4">1,744.20</text>
<text x="594.30" y="605.44" font-size="10.6" font-weight="normal" font-style="normal" fill="#000" textLength="42.62" lengthAdjust="spacingAndGlyphs" stroke="#000" stroke-width="0.4">5,722.44</text>
<text x="662.20" y="605.44" font-size="10.6" font-weight="normal" font-style="normal" fill="#000" textLength="42.62" lengthAdjust="spacingAndGlyphs" stroke="#000" stroke-width="0.4">1,221.40</text>
<text x="730.50" y="605.44" font-size="10.6" font-weight="normal" font-style="normal" fill="#000" textLength="42.62" lengthAdjust="spacingAndGlyphs" stroke="#000" stroke-width="0.4">2,663.42</text>
<text x="806.80" y="605.44" font-size="10.6" font-weight="normal" font-style="normal" fill="#000" textLength="26.59" lengthAdjust="spacingAndGlyphs" stroke="#000" stroke-width="0.4">11.16</text>
<text x="866.10" y="605.44" font-size="10.6" font-weight="normal" font-style="normal" fill="#000" textLength="42.62" lengthAdjust="spacingAndGlyphs" stroke="#000" stroke-width="0.4">1,355.06</text>
<text x="201.92" y="621.70" font-size="10.6" font-weight="normal" font-style="normal" fill="#000" stroke="#000" stroke-width="0.4">20</text>
<text x="273.60" y="621.70" font-size="10.6" font-weight="normal" font-style="normal" fill="#000" textLength="11.21" lengthAdjust="spacingAndGlyphs" stroke="#000" stroke-width="0.4">oil</text>
<text x="327.15" y="621.70" font-size="10.6" font-weight="normal" font-style="normal" fill="#000" textLength="33.49" lengthAdjust="spacingAndGlyphs" stroke="#000" stroke-width="0.4">0.3182</text>
<text x="390.40" y="621.70" font-size="10.6" font-weight="normal" font-style="normal" fill="#000" textLength="42.62" lengthAdjust="spacingAndGlyphs" stroke="#000" stroke-width="0.4">1,750.00</text>
<text x="458.70" y="621.70" font-size="10.6" font-weight="normal" font-style="normal" fill="#000" textLength="42.62" lengthAdjust="spacingAndGlyphs" stroke="#000" stroke-width="0.4">1,754.60</text>
<text x="526.30" y="621.70" font-size="10.6" font-weight="normal" font-style="normal" fill="#000" textLength="42.62" lengthAdjust="spacingAndGlyphs" stroke="#000" stroke-width="0.4">1,754.18</text>
<text x="594.30" y="621.70" font-size="10.6" font-weight="normal" font-style="normal" fill="#000" textLength="42.62" lengthAdjust="spacingAndGlyphs" stroke="#000" stroke-width="0.4">5,755.18</text>
<text x="662.20" y="621.70" font-size="10.6" font-weight="normal" font-style="normal" fill="#000" textLength="42.62" lengthAdjust="spacingAndGlyphs" stroke="#000" stroke-width="0.4">1,231.38</text>
<text x="730.50" y="621.70" font-size="10.6" font-weight="normal" font-style="normal" fill="#000" textLength="42.62" lengthAdjust="spacingAndGlyphs" stroke="#000" stroke-width="0.4">2,674.58</text>
<text x="806.41" y="621.70" font-size="10.6" font-weight="normal" font-style="normal" fill="#000" textLength="27.40" lengthAdjust="spacingAndGlyphs" stroke="#000" stroke-width="0.4">10.42</text>
<text x="866.10" y="621.70" font-size="10.6" font-weight="normal" font-style="normal" fill="#000" textLength="42.62" lengthAdjust="spacingAndGlyphs" stroke="#000" stroke-width="0.4">1,355.53</text>
<text x="201.92" y="637.96" font-size="10.6" font-weight="normal" font-style="normal" fill="#000" stroke="#000" stroke-width="0.4">19</text>
<text x="273.60" y="637.96" font-size="10.6" font-weight="normal" font-style="normal" fill="#000" textLength="11.21" lengthAdjust="spacingAndGlyphs" stroke="#000" stroke-width="0.4">oil</text>
<text x="327.15" y="637.96" font-size="10.6" font-weight="normal" font-style="normal" fill="#000" textLength="33.49" lengthAdjust="spacingAndGlyphs" stroke="#000" stroke-width="0.4">0.3328</text>
<text x="390.40" y="637.96" font-size="10.6" font-weight="normal" font-style="normal" fill="#000" textLength="42.62" lengthAdjust="spacingAndGlyphs" stroke="#000" stroke-width="0.4">1,760.00</text>
<text x="458.70" y="637.96" font-size="10.6" font-weight="normal" font-style="normal" fill="#000" textLength="42.62" lengthAdjust="spacingAndGlyphs" stroke="#000" stroke-width="0.4">1,764.60</text>
<text x="526.30" y="637.96" font-size="10.6" font-weight="normal" font-style="normal" fill="#000" textLength="42.62" lengthAdjust="spacingAndGlyphs" stroke="#000" stroke-width="0.4">1,764.16</text>
<text x="594.30" y="637.96" font-size="10.6" font-weight="normal" font-style="normal" fill="#000" textLength="42.62" lengthAdjust="spacingAndGlyphs" stroke="#000" stroke-width="0.4">5,787.93</text>
<text x="662.20" y="637.96" font-size="10.6" font-weight="normal" font-style="normal" fill="#000" textLength="42.62" lengthAdjust="spacingAndGlyphs" stroke="#000" stroke-width="0.4">1,241.36</text>
<text x="730.50" y="637.96" font-size="10.6" font-weight="normal" font-style="normal" fill="#000" textLength="42.62" lengthAdjust="spacingAndGlyphs" stroke="#000" stroke-width="0.4">2,685.00</text>
<text x="806.41" y="637.96" font-size="10.6" font-weight="normal" font-style="normal" fill="#000" textLength="27.40" lengthAdjust="spacingAndGlyphs" stroke="#000" stroke-width="0.4">10.89</text>
<text x="866.10" y="637.96" font-size="10.6" font-weight="normal" font-style="normal" fill="#000" textLength="42.62" lengthAdjust="spacingAndGlyphs" stroke="#000" stroke-width="0.4">1,355.26</text>
<text x="201.92" y="654.22" font-size="10.6" font-weight="normal" font-style="normal" fill="#000" stroke="#000" stroke-width="0.4">18</text>
<text x="273.60" y="654.22" font-size="10.6" font-weight="normal" font-style="normal" fill="#000" textLength="11.21" lengthAdjust="spacingAndGlyphs" stroke="#000" stroke-width="0.4">oil</text>
<text x="327.15" y="654.22" font-size="10.6" font-weight="normal" font-style="normal" fill="#000" textLength="33.49" lengthAdjust="spacingAndGlyphs" stroke="#000" stroke-width="0.4">0.3222</text>
<text x="390.40" y="654.22" font-size="10.6" font-weight="normal" font-style="normal" fill="#000" textLength="42.62" lengthAdjust="spacingAndGlyphs" stroke="#000" stroke-width="0.4">1,770.00</text>
<text x="458.70" y="654.22" font-size="10.6" font-weight="normal" font-style="normal" fill="#000" textLength="42.62" lengthAdjust="spacingAndGlyphs" stroke="#000" stroke-width="0.4">1,774.60</text>
<text x="526.30" y="654.22" font-size="10.6" font-weight="normal" font-style="normal" fill="#000" textLength="42.62" lengthAdjust="spacingAndGlyphs" stroke="#000" stroke-width="0.4">1,774.13</text>
<text x="594.30" y="654.22" font-size="10.6" font-weight="normal" font-style="normal" fill="#000" textLength="42.62" lengthAdjust="spacingAndGlyphs" stroke="#000" stroke-width="0.4">5,820.64</text>
<text x="662.20" y="654.22" font-size="10.6" font-weight="normal" font-style="normal" fill="#000" textLength="42.62" lengthAdjust="spacingAndGlyphs" stroke="#000" stroke-width="0.4">1,251.33</text>
<text x="730.50" y="654.22" font-size="10.6" font-weight="normal" font-style="normal" fill="#000" textLength="42.62" lengthAdjust="spacingAndGlyphs" stroke="#000" stroke-width="0.4">2,695.89</text>
<text x="806.41" y="654.22" font-size="10.6" font-weight="normal" font-style="normal" fill="#000" textLength="27.40" lengthAdjust="spacingAndGlyphs" stroke="#000" stroke-width="0.4">10.55</text>
<text x="866.10" y="654.22" font-size="10.6" font-weight="normal" font-style="normal" fill="#000" textLength="42.62" lengthAdjust="spacingAndGlyphs" stroke="#000" stroke-width="0.4">1,355.47</text>
<text x="201.92" y="670.48" font-size="10.6" font-weight="normal" font-style="normal" fill="#000" stroke="#000" stroke-width="0.4">17</text>
<text x="273.60" y="670.48" font-size="10.6" font-weight="normal" font-style="normal" fill="#000" textLength="11.21" lengthAdjust="spacingAndGlyphs" stroke="#000" stroke-width="0.4">oil</text>
<text x="327.15" y="670.48" font-size="10.6" font-weight="normal" font-style="normal" fill="#000" textLength="33.49" lengthAdjust="spacingAndGlyphs" stroke="#000" stroke-width="0.4">0.3529</text>
<text x="390.40" y="670.48" font-size="10.6" font-weight="normal" font-style="normal" fill="#000" textLength="42.62" lengthAdjust="spacingAndGlyphs" stroke="#000" stroke-width="0.4">1,780.00</text>
<text x="458.70" y="670.48" font-size="10.6" font-weight="normal" font-style="normal" fill="#000" textLength="42.62" lengthAdjust="spacingAndGlyphs" stroke="#000" stroke-width="0.4">1,784.60</text>
<text x="526.69" y="670.48" font-size="10.6" font-weight="normal" font-style="normal" fill="#000" textLength="41.81" lengthAdjust="spacingAndGlyphs" stroke="#000" stroke-width="0.4">1,784.11</text>
<text x="594.30" y="670.48" font-size="10.6" font-weight="normal" font-style="normal" fill="#000" textLength="42.62" lengthAdjust="spacingAndGlyphs" stroke="#000" stroke-width="0.4">5,853.38</text>
<text x="662.20" y="670.48" font-size="10.6" font-weight="normal" font-style="normal" fill="#000" textLength="42.62" lengthAdjust="spacingAndGlyphs" stroke="#000" stroke-width="0.4">1,261.31</text>
<text x="730.50" y="670.48" font-size="10.6" font-weight="normal" font-style="normal" fill="#000" textLength="42.62" lengthAdjust="spacingAndGlyphs" stroke="#000" stroke-width="0.4">2,706.44</text>
<text x="806.80" y="670.48" font-size="10.6" font-weight="normal" font-style="normal" fill="#000" textLength="26.59" lengthAdjust="spacingAndGlyphs" stroke="#000" stroke-width="0.4">11.55</text>
<text x="866.10" y="670.48" font-size="10.6" font-weight="normal" font-style="normal" fill="#000" textLength="42.62" lengthAdjust="spacingAndGlyphs" stroke="#000" stroke-width="0.4">1,355.33</text>
<text x="201.92" y="686.74" font-size="10.6" font-weight="normal" font-style="normal" fill="#000" stroke="#000" stroke-width="0.4">16</text>
<text x="264.37" y="686.74" font-size="10.6" font-weight="normal" font-style="normal" fill="#000" textLength="29.72" lengthAdjust="spacingAndGlyphs" stroke="#000" stroke-width="0.4">water</text>
<text x="327.15" y="686.74" font-size="10.6" font-weight="normal" font-style="normal" fill="#000" textLength="33.49" lengthAdjust="spacingAndGlyphs" stroke="#000" stroke-width="0.4">0.4245</text>
<text x="390.40" y="686.74" font-size="10.6" font-weight="normal" font-style="normal" fill="#000" textLength="42.62" lengthAdjust="spacingAndGlyphs" stroke="#000" stroke-width="0.4">1,790.00</text>
<text x="458.70" y="686.74" font-size="10.6" font-weight="normal" font-style="normal" fill="#000" textLength="42.62" lengthAdjust="spacingAndGlyphs" stroke="#000" stroke-width="0.4">1,794.60</text>
<text x="526.30" y="686.74" font-size="10.6" font-weight="normal" font-style="normal" fill="#000" textLength="42.62" lengthAdjust="spacingAndGlyphs" stroke="#000" stroke-width="0.4">1,794.09</text>
<text x="594.30" y="686.74" font-size="10.6" font-weight="normal" font-style="normal" fill="#000" textLength="42.62" lengthAdjust="spacingAndGlyphs" stroke="#000" stroke-width="0.4">5,886.12</text>
<text x="662.20" y="686.74" font-size="10.6" font-weight="normal" font-style="normal" fill="#000" textLength="42.62" lengthAdjust="spacingAndGlyphs" stroke="#000" stroke-width="0.4">1,271.29</text>
<text x="730.50" y="686.74" font-size="10.6" font-weight="normal" font-style="normal" fill="#000" textLength="42.62" lengthAdjust="spacingAndGlyphs" stroke="#000" stroke-width="0.4">2,717.99</text>
<text x="806.41" y="686.74" font-size="10.6" font-weight="normal" font-style="normal" fill="#000" textLength="27.40" lengthAdjust="spacingAndGlyphs" stroke="#000" stroke-width="0.4">13.88</text>
<text x="866.10" y="686.74" font-size="10.6" font-weight="normal" font-style="normal" fill="#000" textLength="42.62" lengthAdjust="spacingAndGlyphs" stroke="#000" stroke-width="0.4">1,356.19</text>
<text x="201.92" y="703.00" font-size="10.6" font-weight="normal" font-style="normal" fill="#000" stroke="#000" stroke-width="0.4">15</text>
<text x="264.37" y="703.00" font-size="10.6" font-weight="normal" font-style="normal" fill="#000" textLength="29.72" lengthAdjust="spacingAndGlyphs" stroke="#000" stroke-width="0.4">water</text>
<text x="327.15" y="703.00" font-size="10.6" font-weight="normal" font-style="normal" fill="#000" textLength="33.49" lengthAdjust="spacingAndGlyphs" stroke="#000" stroke-width="0.4">0.4169</text>
<text x="390.40" y="703.00" font-size="10.6" font-weight="normal" font-style="normal" fill="#000" textLength="42.62" lengthAdjust="spacingAndGlyphs" stroke="#000" stroke-width="0.4">1,800.00</text>
<text x="458.70" y="703.00" font-size="10.6" font-weight="normal" font-style="normal" fill="#000" textLength="42.62" lengthAdjust="spacingAndGlyphs" stroke="#000" stroke-width="0.4">1,804.60</text>
<text x="526.30" y="703.00" font-size="10.6" font-weight="normal" font-style="normal" fill="#000" textLength="42.62" lengthAdjust="spacingAndGlyphs" stroke="#000" stroke-width="0.4">1,804.06</text>
<text x="594.30" y="703.00" font-size="10.6" font-weight="normal" font-style="normal" fill="#000" textLength="42.62" lengthAdjust="spacingAndGlyphs" stroke="#000" stroke-width="0.4">5,918.83</text>
<text x="662.20" y="703.00" font-size="10.6" font-weight="normal" font-style="normal" fill="#000" textLength="42.62" lengthAdjust="spacingAndGlyphs" stroke="#000" stroke-width="0.4">1,281.26</text>
<text x="730.50" y="703.00" font-size="10.6" font-weight="normal" font-style="normal" fill="#000" textLength="42.62" lengthAdjust="spacingAndGlyphs" stroke="#000" stroke-width="0.4">2,731.88</text>
<text x="806.41" y="703.00" font-size="10.6" font-weight="normal" font-style="normal" fill="#000" textLength="27.40" lengthAdjust="spacingAndGlyphs" stroke="#000" stroke-width="0.4">13.64</text>
<text x="866.10" y="703.00" font-size="10.6" font-weight="normal" font-style="normal" fill="#000" textLength="42.62" lengthAdjust="spacingAndGlyphs" stroke="#000" stroke-width="0.4">1,359.40</text>
<text x="201.92" y="719.26" font-size="10.6" font-weight="normal" font-style="normal" fill="#000" stroke="#000" stroke-width="0.4">14</text>
<text x="264.37" y="719.26" font-size="10.6" font-weight="normal" font-style="normal" fill="#000" textLength="29.72" lengthAdjust="spacingAndGlyphs" stroke="#000" stroke-width="0.4">water</text>
<text x="327.15" y="719.26" font-size="10.6" font-weight="normal" font-style="normal" fill="#000" textLength="33.49" lengthAdjust="spacingAndGlyphs" stroke="#000" stroke-width="0.4">0.4340</text>
<text x="390.40" y="719.26" font-size="10.6" font-weight="normal" font-style="normal" fill="#000" textLength="42.62" lengthAdjust="spacingAndGlyphs" stroke="#000" stroke-width="0.4">1,810.00</text>
<text x="458.70" y="719.26" font-size="10.6" font-weight="normal" font-style="normal" fill="#000" textLength="42.62" lengthAdjust="spacingAndGlyphs" stroke="#000" stroke-width="0.4">1,814.60</text>
<text x="526.30" y="719.26" font-size="10.6" font-weight="normal" font-style="normal" fill="#000" textLength="42.62" lengthAdjust="spacingAndGlyphs" stroke="#000" stroke-width="0.4">1,814.03</text>
<text x="594.30" y="719.26" font-size="10.6" font-weight="normal" font-style="normal" fill="#000" textLength="42.62" lengthAdjust="spacingAndGlyphs" stroke="#000" stroke-width="0.4">5,951.54</text>
<text x="662.20" y="719.26" font-size="10.6" font-weight="normal" font-style="normal" fill="#000" textLength="42.62" lengthAdjust="spacingAndGlyphs" stroke="#000" stroke-width="0.4">1,291.23</text>
<text x="730.50" y="719.26" font-size="10.6" font-weight="normal" font-style="normal" fill="#000" textLength="42.62" lengthAdjust="spacingAndGlyphs" stroke="#000" stroke-width="0.4">2,745.51</text>
<text x="806.41" y="719.26" font-size="10.6" font-weight="normal" font-style="normal" fill="#000" textLength="27.40" lengthAdjust="spacingAndGlyphs" stroke="#000" stroke-width="0.4">14.20</text>
<text x="866.10" y="719.26" font-size="10.6" font-weight="normal" font-style="normal" fill="#000" textLength="42.62" lengthAdjust="spacingAndGlyphs" stroke="#000" stroke-width="0.4">1,362.36</text>
<text x="201.92" y="735.52" font-size="10.6" font-weight="normal" font-style="normal" fill="#000" stroke="#000" stroke-width="0.4">13</text>
<text x="264.37" y="735.52" font-size="10.6" font-weight="normal" font-style="normal" fill="#000" textLength="29.72" lengthAdjust="spacingAndGlyphs" stroke="#000" stroke-width="0.4">water</text>
<text x="327.15" y="735.52" font-size="10.6" font-weight="normal" font-style="normal" fill="#000" textLength="33.49" lengthAdjust="spacingAndGlyphs" stroke="#000" stroke-width="0.4">0.4331</text>
<text x="390.40" y="735.52" font-size="10.6" font-weight="normal" font-style="normal" fill="#000" textLength="42.62" lengthAdjust="spacingAndGlyphs" stroke="#000" stroke-width="0.4">1,820.00</text>
<text x="458.70" y="735.52" font-size="10.6" font-weight="normal" font-style="normal" fill="#000" textLength="42.62" lengthAdjust="spacingAndGlyphs" stroke="#000" stroke-width="0.4">1,824.60</text>
<text x="526.30" y="735.52" font-size="10.6" font-weight="normal" font-style="normal" fill="#000" textLength="42.62" lengthAdjust="spacingAndGlyphs" stroke="#000" stroke-width="0.4">1,824.00</text>
<text x="594.30" y="735.52" font-size="10.6" font-weight="normal" font-style="normal" fill="#000" textLength="42.62" lengthAdjust="spacingAndGlyphs" stroke="#000" stroke-width="0.4">5,984.25</text>
<text x="662.20" y="735.52" font-size="10.6" font-weight="normal" font-style="normal" fill="#000" textLength="42.62" lengthAdjust="spacingAndGlyphs" stroke="#000" stroke-width="0.4">1,301.20</text>
<text x="730.50" y="735.52" font-size="10.6" font-weight="normal" font-style="normal" fill="#000" textLength="42.62" lengthAdjust="spacingAndGlyphs" stroke="#000" stroke-width="0.4">2,759.71</text>
<text x="806.41" y="735.52" font-size="10.6" font-weight="normal" font-style="normal" fill="#000" textLength="27.40" lengthAdjust="spacingAndGlyphs" stroke="#000" stroke-width="0.4">14.15</text>
<text x="866.10" y="735.52" font-size="10.6" font-weight="normal" font-style="normal" fill="#000" textLength="42.62" lengthAdjust="spacingAndGlyphs" stroke="#000" stroke-width="0.4">1,365.87</text>
<text x="201.92" y="751.78" font-size="10.6" font-weight="normal" font-style="normal" fill="#000" stroke="#000" stroke-width="0.4">12</text>
<text x="264.37" y="751.78" font-size="10.6" font-weight="normal" font-style="normal" fill="#000" textLength="29.72" lengthAdjust="spacingAndGlyphs" stroke="#000" stroke-width="0.4">water</text>
<text x="327.15" y="751.78" font-size="10.6" font-weight="normal" font-style="normal" fill="#000" textLength="33.49" lengthAdjust="spacingAndGlyphs" stroke="#000" stroke-width="0.4">0.4308</text>
<text x="390.40" y="751.78" font-size="10.6" font-weight="normal" font-style="normal" fill="#000" textLength="42.62" lengthAdjust="spacingAndGlyphs" stroke="#000" stroke-width="0.4">1,830.00</text>
<text x="458.70" y="751.78" font-size="10.6" font-weight="normal" font-style="normal" fill="#000" textLength="42.62" lengthAdjust="spacingAndGlyphs" stroke="#000" stroke-width="0.4">1,834.60</text>
<text x="526.30" y="751.78" font-size="10.6" font-weight="normal" font-style="normal" fill="#000" textLength="42.62" lengthAdjust="spacingAndGlyphs" stroke="#000" stroke-width="0.4">1,833.96</text>
<text x="594.30" y="751.78" font-size="10.6" font-weight="normal" font-style="normal" fill="#000" textLength="42.62" lengthAdjust="spacingAndGlyphs" stroke="#000" stroke-width="0.4">6,016.93</text>
<text x="662.59" y="751.78" font-size="10.6" font-weight="normal" font-style="normal" fill="#000" textLength="41.81" lengthAdjust="spacingAndGlyphs" stroke="#000" stroke-width="0.4">1,311.16</text>
<text x="730.50" y="751.78" font-size="10.6" font-weight="normal" font-style="normal" fill="#000" textLength="42.62" lengthAdjust="spacingAndGlyphs" stroke="#000" stroke-width="0.4">2,773.86</text>
<text x="806.41" y="751.78" font-size="10.6" font-weight="normal" font-style="normal" fill="#000" textLength="27.40" lengthAdjust="spacingAndGlyphs" stroke="#000" stroke-width="0.4">14.06</text>
<text x="866.10" y="751.78" font-size="10.6" font-weight="normal" font-style="normal" fill="#000" textLength="42.62" lengthAdjust="spacingAndGlyphs" stroke="#000" stroke-width="0.4">1,369.36</text>
<text x="202.29" y="768.04" font-size="10.6" font-weight="normal" font-style="normal" fill="#000" stroke="#000" stroke-width="0.4">11</text>
<text x="264.37" y="768.04" font-size="10.6" font-weight="normal" font-style="normal" fill="#000" textLength="29.72" lengthAdjust="spacingAndGlyphs" stroke="#000" stroke-width="0.4">water</text>
<text x="327.15" y="768.04" font-size="10.6" font-weight="normal" font-style="normal" fill="#000" textLength="33.49" lengthAdjust="spacingAndGlyphs" stroke="#000" stroke-width="0.4">0.4192</text>
<text x="390.40" y="768.04" font-size="10.6" font-weight="normal" font-style="normal" fill="#000" textLength="42.62" lengthAdjust="spacingAndGlyphs" stroke="#000" stroke-width="0.4">1,840.00</text>
<text x="458.70" y="768.04" font-size="10.6" font-weight="normal" font-style="normal" fill="#000" textLength="42.62" lengthAdjust="spacingAndGlyphs" stroke="#000" stroke-width="0.4">1,844.60</text>
<text x="526.30" y="768.04" font-size="10.6" font-weight="normal" font-style="normal" fill="#000" textLength="42.62" lengthAdjust="spacingAndGlyphs" stroke="#000" stroke-width="0.4">1,843.91</text>
<text x="594.30" y="768.04" font-size="10.6" font-weight="normal" font-style="normal" fill="#000" textLength="42.62" lengthAdjust="spacingAndGlyphs" stroke="#000" stroke-width="0.4">6,049.57</text>
<text x="662.59" y="768.04" font-size="10.6" font-weight="normal" font-style="normal" fill="#000" textLength="41.81" lengthAdjust="spacingAndGlyphs" stroke="#000" stroke-width="0.4">1,321.11</text>
<text x="730.50" y="768.04" font-size="10.6" font-weight="normal" font-style="normal" fill="#000" textLength="42.62" lengthAdjust="spacingAndGlyphs" stroke="#000" stroke-width="0.4">2,787.93</text>
<text x="806.41" y="768.04" font-size="10.6" font-weight="normal" font-style="normal" fill="#000" textLength="27.40" lengthAdjust="spacingAndGlyphs" stroke="#000" stroke-width="0.4">13.70</text>
<text x="866.10" y="768.04" font-size="10.6" font-weight="normal" font-style="normal" fill="#000" textLength="42.62" lengthAdjust="spacingAndGlyphs" stroke="#000" stroke-width="0.4">1,372.76</text>
<text x="201.92" y="784.30" font-size="10.6" font-weight="normal" font-style="normal" fill="#000" stroke="#000" stroke-width="0.4">10</text>
<text x="264.37" y="784.30" font-size="10.6" font-weight="normal" font-style="normal" fill="#000" textLength="29.72" lengthAdjust="spacingAndGlyphs" stroke="#000" stroke-width="0.4">water</text>
<text x="327.15" y="784.30" font-size="10.6" font-weight="normal" font-style="normal" fill="#000" textLength="33.49" lengthAdjust="spacingAndGlyphs" stroke="#000" stroke-width="0.4">0.4147</text>
<text x="390.40" y="784.30" font-size="10.6" font-weight="normal" font-style="normal" fill="#000" textLength="42.62" lengthAdjust="spacingAndGlyphs" stroke="#000" stroke-width="0.4">1,850.00</text>
<text x="458.70" y="784.30" font-size="10.6" font-weight="normal" font-style="normal" fill="#000" textLength="42.62" lengthAdjust="spacingAndGlyphs" stroke="#000" stroke-width="0.4">1,854.60</text>
<text x="526.30" y="784.30" font-size="10.6" font-weight="normal" font-style="normal" fill="#000" textLength="42.62" lengthAdjust="spacingAndGlyphs" stroke="#000" stroke-width="0.4">1,853.87</text>
<text x="594.30" y="784.30" font-size="10.6" font-weight="normal" font-style="normal" fill="#000" textLength="42.62" lengthAdjust="spacingAndGlyphs" stroke="#000" stroke-width="0.4">6,082.25</text>
<text x="662.20" y="784.30" font-size="10.6" font-weight="normal" font-style="normal" fill="#000" textLength="42.62" lengthAdjust="spacingAndGlyphs" stroke="#000" stroke-width="0.4">1,331.07</text>
<text x="730.50" y="784.30" font-size="10.6" font-weight="normal" font-style="normal" fill="#000" textLength="42.62" lengthAdjust="spacingAndGlyphs" stroke="#000" stroke-width="0.4">2,801.63</text>
<text x="806.41" y="784.30" font-size="10.6" font-weight="normal" font-style="normal" fill="#000" textLength="27.40" lengthAdjust="spacingAndGlyphs" stroke="#000" stroke-width="0.4">13.54</text>
<text x="866.10" y="784.30" font-size="10.6" font-weight="normal" font-style="normal" fill="#000" textLength="42.62" lengthAdjust="spacingAndGlyphs" stroke="#000" stroke-width="0.4">1,375.79</text>
<text x="204.83" y="800.56" font-size="10.6" font-weight="normal" font-style="normal" fill="#000" stroke="#000" stroke-width="0.4">9</text>
<text x="264.37" y="800.56" font-size="10.6" font-weight="normal" font-style="normal" fill="#000" textLength="29.72" lengthAdjust="spacingAndGlyphs" stroke="#000" stroke-width="0.4">water</text>
<text x="327.15" y="800.56" font-size="10.6" font-weight="normal" font-style="normal" fill="#000" textLength="33.49" lengthAdjust="spacingAndGlyphs" stroke="#000" stroke-width="0.4">0.4299</text>
<text x="390.40" y="800.56" font-size="10.6" font-weight="normal" font-style="normal" fill="#000" textLength="42.62" lengthAdjust="spacingAndGlyphs" stroke="#000" stroke-width="0.4">1,860.00</text>
<text x="458.70" y="800.56" font-size="10.6" font-weight="normal" font-style="normal" fill="#000" textLength="42.62" lengthAdjust="spacingAndGlyphs" stroke="#000" stroke-width="0.4">1,864.60</text>
<text x="526.30" y="800.56" font-size="10.6" font-weight="normal" font-style="normal" fill="#000" textLength="42.62" lengthAdjust="spacingAndGlyphs" stroke="#000" stroke-width="0.4">1,863.82</text>
<text x="594.69" y="800.56" font-size="10.6" font-weight="normal" font-style="normal" fill="#000" textLength="41.81" lengthAdjust="spacingAndGlyphs" stroke="#000" stroke-width="0.4">6,114.90</text>
<text x="662.20" y="800.56" font-size="10.6" font-weight="normal" font-style="normal" fill="#000" textLength="42.62" lengthAdjust="spacingAndGlyphs" stroke="#000" stroke-width="0.4">1,341.02</text>
<text x="730.50" y="800.56" font-size="10.6" font-weight="normal" font-style="normal" fill="#000" textLength="42.62" lengthAdjust="spacingAndGlyphs" stroke="#000" stroke-width="0.4">2,815.17</text>
<text x="806.41" y="800.56" font-size="10.6" font-weight="normal" font-style="normal" fill="#000" textLength="27.40" lengthAdjust="spacingAndGlyphs" stroke="#000" stroke-width="0.4">14.02</text>
<text x="866.10" y="800.56" font-size="10.6" font-weight="normal" font-style="normal" fill="#000" textLength="42.62" lengthAdjust="spacingAndGlyphs" stroke="#000" stroke-width="0.4">1,378.67</text>
<text x="204.83" y="816.82" font-size="10.6" font-weight="normal" font-style="normal" fill="#000" stroke="#000" stroke-width="0.4">8</text>
<text x="264.37" y="816.82" font-size="10.6" font-weight="normal" font-style="normal" fill="#000" textLength="29.72" lengthAdjust="spacingAndGlyphs" stroke="#000" stroke-width="0.4">water</text>
<text x="327.15" y="816.82" font-size="10.6" font-weight="normal" font-style="normal" fill="#000" textLength="33.49" lengthAdjust="spacingAndGlyphs" stroke="#000" stroke-width="0.4">0.4306</text>
<text x="390.40" y="816.82" font-size="10.6" font-weight="normal" font-style="normal" fill="#000" textLength="42.62" lengthAdjust="spacingAndGlyphs" stroke="#000" stroke-width="0.4">1,870.00</text>
<text x="458.70" y="816.82" font-size="10.6" font-weight="normal" font-style="normal" fill="#000" textLength="42.62" lengthAdjust="spacingAndGlyphs" stroke="#000" stroke-width="0.4">1,874.60</text>
<text x="526.30" y="816.82" font-size="10.6" font-weight="normal" font-style="normal" fill="#000" textLength="42.62" lengthAdjust="spacingAndGlyphs" stroke="#000" stroke-width="0.4">1,873.76</text>
<text x="594.30" y="816.82" font-size="10.6" font-weight="normal" font-style="normal" fill="#000" textLength="42.62" lengthAdjust="spacingAndGlyphs" stroke="#000" stroke-width="0.4">6,147.51</text>
<text x="662.20" y="816.82" font-size="10.6" font-weight="normal" font-style="normal" fill="#000" textLength="42.62" lengthAdjust="spacingAndGlyphs" stroke="#000" stroke-width="0.4">1,350.96</text>
<text x="730.50" y="816.82" font-size="10.6" font-weight="normal" font-style="normal" fill="#000" textLength="42.62" lengthAdjust="spacingAndGlyphs" stroke="#000" stroke-width="0.4">2,829.19</text>
<text x="806.41" y="816.82" font-size="10.6" font-weight="normal" font-style="normal" fill="#000" textLength="27.40" lengthAdjust="spacingAndGlyphs" stroke="#000" stroke-width="0.4">14.04</text>
<text x="866.10" y="816.82" font-size="10.6" font-weight="normal" font-style="normal" fill="#000" textLength="42.62" lengthAdjust="spacingAndGlyphs" stroke="#000" stroke-width="0.4">1,382.05</text>
<text x="204.83" y="833.08" font-size="10.6" font-weight="normal" font-style="normal" fill="#000" stroke="#000" stroke-width="0.4">7</text>
<text x="264.37" y="833.08" font-size="10.6" font-weight="normal" font-style="normal" fill="#000" textLength="29.72" lengthAdjust="spacingAndGlyphs" stroke="#000" stroke-width="0.4">water</text>
<text x="327.15" y="833.08" font-size="10.6" font-weight="normal" font-style="normal" fill="#000" textLength="33.49" lengthAdjust="spacingAndGlyphs" stroke="#000" stroke-width="0.4">0.4299</text>
<text x="390.40" y="833.08" font-size="10.6" font-weight="normal" font-style="normal" fill="#000" textLength="42.62" lengthAdjust="spacingAndGlyphs" stroke="#000" stroke-width="0.4">1,880.00</text>
<text x="458.70" y="833.08" font-size="10.6" font-weight="normal" font-style="normal" fill="#000" textLength="42.62" lengthAdjust="spacingAndGlyphs" stroke="#000" stroke-width="0.4">1,884.60</text>
<text x="526.30" y="833.08" font-size="10.6" font-weight="normal" font-style="normal" fill="#000" textLength="42.62" lengthAdjust="spacingAndGlyphs" stroke="#000" stroke-width="0.4">1,883.70</text>
<text x="594.30" y="833.08" font-size="10.6" font-weight="normal" font-style="normal" fill="#000" textLength="42.62" lengthAdjust="spacingAndGlyphs" stroke="#000" stroke-width="0.4">6,180.12</text>
<text x="662.20" y="833.08" font-size="10.6" font-weight="normal" font-style="normal" fill="#000" textLength="42.62" lengthAdjust="spacingAndGlyphs" stroke="#000" stroke-width="0.4">1,360.90</text>
<text x="730.50" y="833.08" font-size="10.6" font-weight="normal" font-style="normal" fill="#000" textLength="42.62" lengthAdjust="spacingAndGlyphs" stroke="#000" stroke-width="0.4">2,843.23</text>
<text x="806.41" y="833.08" font-size="10.6" font-weight="normal" font-style="normal" fill="#000" textLength="27.40" lengthAdjust="spacingAndGlyphs" stroke="#000" stroke-width="0.4">14.01</text>
<text x="866.10" y="833.08" font-size="10.6" font-weight="normal" font-style="normal" fill="#000" textLength="42.62" lengthAdjust="spacingAndGlyphs" stroke="#000" stroke-width="0.4">1,385.44</text>
<text x="204.83" y="849.34" font-size="10.6" font-weight="normal" font-style="normal" fill="#000" stroke="#000" stroke-width="0.4">6</text>
<text x="264.37" y="849.34" font-size="10.6" font-weight="normal" font-style="normal" fill="#000" textLength="29.72" lengthAdjust="spacingAndGlyphs" stroke="#000" stroke-width="0.4">water</text>
<text x="327.15" y="849.34" font-size="10.6" font-weight="normal" font-style="normal" fill="#000" textLength="33.49" lengthAdjust="spacingAndGlyphs" stroke="#000" stroke-width="0.4">0.4257</text>
<text x="390.40" y="849.34" font-size="10.6" font-weight="normal" font-style="normal" fill="#000" textLength="42.62" lengthAdjust="spacingAndGlyphs" stroke="#000" stroke-width="0.4">1,890.00</text>
<text x="458.70" y="849.34" font-size="10.6" font-weight="normal" font-style="normal" fill="#000" textLength="42.62" lengthAdjust="spacingAndGlyphs" stroke="#000" stroke-width="0.4">1,894.60</text>
<text x="526.30" y="849.34" font-size="10.6" font-weight="normal" font-style="normal" fill="#000" textLength="42.62" lengthAdjust="spacingAndGlyphs" stroke="#000" stroke-width="0.4">1,893.63</text>
<text x="594.30" y="849.34" font-size="10.6" font-weight="normal" font-style="normal" fill="#000" textLength="42.62" lengthAdjust="spacingAndGlyphs" stroke="#000" stroke-width="0.4">6,212.70</text>
<text x="662.20" y="849.34" font-size="10.6" font-weight="normal" font-style="normal" fill="#000" textLength="42.62" lengthAdjust="spacingAndGlyphs" stroke="#000" stroke-width="0.4">1,370.83</text>
<text x="730.50" y="849.34" font-size="10.6" font-weight="normal" font-style="normal" fill="#000" textLength="42.62" lengthAdjust="spacingAndGlyphs" stroke="#000" stroke-width="0.4">2,857.23</text>
<text x="806.41" y="849.34" font-size="10.6" font-weight="normal" font-style="normal" fill="#000" textLength="27.40" lengthAdjust="spacingAndGlyphs" stroke="#000" stroke-width="0.4">13.89</text>
<text x="866.10" y="849.34" font-size="10.6" font-weight="normal" font-style="normal" fill="#000" textLength="42.62" lengthAdjust="spacingAndGlyphs" stroke="#000" stroke-width="0.4">1,388.81</text>
<text x="204.83" y="865.60" font-size="10.6" font-weight="normal" font-style="normal" fill="#000" stroke="#000" stroke-width="0.4">5</text>
<text x="264.37" y="865.60" font-size="10.6" font-weight="normal" font-style="normal" fill="#000" textLength="29.72" lengthAdjust="spacingAndGlyphs" stroke="#000" stroke-width="0.4">water</text>
<text x="327.15" y="865.60" font-size="10.6" font-weight="normal" font-style="normal" fill="#000" textLength="33.49" lengthAdjust="spacingAndGlyphs" stroke="#000" stroke-width="0.4">0.4161</text>
<text x="390.40" y="865.60" font-size="10.6" font-weight="normal" font-style="normal" fill="#000" textLength="42.62" lengthAdjust="spacingAndGlyphs" stroke="#000" stroke-width="0.4">1,900.00</text>
<text x="458.70" y="865.60" font-size="10.6" font-weight="normal" font-style="normal" fill="#000" textLength="42.62" lengthAdjust="spacingAndGlyphs" stroke="#000" stroke-width="0.4">1,904.60</text>
<text x="526.30" y="865.60" font-size="10.6" font-weight="normal" font-style="normal" fill="#000" textLength="42.62" lengthAdjust="spacingAndGlyphs" stroke="#000" stroke-width="0.4">1,903.58</text>
<text x="594.30" y="865.60" font-size="10.6" font-weight="normal" font-style="normal" fill="#000" textLength="42.62" lengthAdjust="spacingAndGlyphs" stroke="#000" stroke-width="0.4">6,245.34</text>
<text x="662.20" y="865.60" font-size="10.6" font-weight="normal" font-style="normal" fill="#000" textLength="42.62" lengthAdjust="spacingAndGlyphs" stroke="#000" stroke-width="0.4">1,380.78</text>
<text x="730.50" y="865.60" font-size="10.6" font-weight="normal" font-style="normal" fill="#000" textLength="42.62" lengthAdjust="spacingAndGlyphs" stroke="#000" stroke-width="0.4">2,871.13</text>
<text x="806.41" y="865.60" font-size="10.6" font-weight="normal" font-style="normal" fill="#000" textLength="27.40" lengthAdjust="spacingAndGlyphs" stroke="#000" stroke-width="0.4">13.56</text>
<text x="866.10" y="865.60" font-size="10.6" font-weight="normal" font-style="normal" fill="#000" textLength="42.62" lengthAdjust="spacingAndGlyphs" stroke="#000" stroke-width="0.4">1,392.04</text>
<text x="204.83" y="881.86" font-size="10.6" font-weight="normal" font-style="normal" fill="#000" stroke="#000" stroke-width="0.4">4</text>
<text x="264.37" y="881.86" font-size="10.6" font-weight="normal" font-style="normal" fill="#000" textLength="29.72" lengthAdjust="spacingAndGlyphs" stroke="#000" stroke-width="0.4">water</text>
<text x="327.15" y="881.86" font-size="10.6" font-weight="normal" font-style="normal" fill="#000" textLength="33.49" lengthAdjust="spacingAndGlyphs" stroke="#000" stroke-width="0.4">0.4339</text>
<text x="390.40" y="881.86" font-size="10.6" font-weight="normal" font-style="normal" fill="#000" textLength="42.62" lengthAdjust="spacingAndGlyphs" stroke="#000" stroke-width="0.4">1,910.00</text>
<text x="458.70" y="881.86" font-size="10.6" font-weight="normal" font-style="normal" fill="#000" textLength="42.62" lengthAdjust="spacingAndGlyphs" stroke="#000" stroke-width="0.4">1,914.60</text>
<text x="526.30" y="881.86" font-size="10.6" font-weight="normal" font-style="normal" fill="#000" textLength="42.62" lengthAdjust="spacingAndGlyphs" stroke="#000" stroke-width="0.4">1,913.51</text>
<text x="594.30" y="881.86" font-size="10.6" font-weight="normal" font-style="normal" fill="#000" textLength="42.62" lengthAdjust="spacingAndGlyphs" stroke="#000" stroke-width="0.4">6,277.92</text>
<text x="662.20" y="881.86" font-size="10.6" font-weight="normal" font-style="normal" fill="#000" textLength="42.62" lengthAdjust="spacingAndGlyphs" stroke="#000" stroke-width="0.4">1,390.71</text>
<text x="730.50" y="881.86" font-size="10.6" font-weight="normal" font-style="normal" fill="#000" textLength="42.62" lengthAdjust="spacingAndGlyphs" stroke="#000" stroke-width="0.4">2,884.69</text>
<text x="806.41" y="881.86" font-size="10.6" font-weight="normal" font-style="normal" fill="#000" textLength="27.40" lengthAdjust="spacingAndGlyphs" stroke="#000" stroke-width="0.4">14.15</text>
<text x="866.10" y="881.86" font-size="10.6" font-weight="normal" font-style="normal" fill="#000" textLength="42.62" lengthAdjust="spacingAndGlyphs" stroke="#000" stroke-width="0.4">1,394.96</text>
<text x="204.83" y="898.12" font-size="10.6" font-weight="normal" font-style="normal" fill="#000" stroke="#000" stroke-width="0.4">3</text>
<text x="264.37" y="898.12" font-size="10.6" font-weight="normal" font-style="normal" fill="#000" textLength="29.72" lengthAdjust="spacingAndGlyphs" stroke="#000" stroke-width="0.4">water</text>
<text x="327.15" y="898.12" font-size="10.6" font-weight="normal" font-style="normal" fill="#000" textLength="33.49" lengthAdjust="spacingAndGlyphs" stroke="#000" stroke-width="0.4">0.4260</text>
<text x="390.40" y="898.12" font-size="10.6" font-weight="normal" font-style="normal" fill="#000" textLength="42.62" lengthAdjust="spacingAndGlyphs" stroke="#000" stroke-width="0.4">1,920.00</text>
<text x="458.70" y="898.12" font-size="10.6" font-weight="normal" font-style="normal" fill="#000" textLength="42.62" lengthAdjust="spacingAndGlyphs" stroke="#000" stroke-width="0.4">1,924.60</text>
<text x="526.30" y="898.12" font-size="10.6" font-weight="normal" font-style="normal" fill="#000" textLength="42.62" lengthAdjust="spacingAndGlyphs" stroke="#000" stroke-width="0.4">1,923.45</text>
<text x="594.30" y="898.12" font-size="10.6" font-weight="normal" font-style="normal" fill="#000" textLength="42.62" lengthAdjust="spacingAndGlyphs" stroke="#000" stroke-width="0.4">6,310.53</text>
<text x="662.20" y="898.12" font-size="10.6" font-weight="normal" font-style="normal" fill="#000" textLength="42.62" lengthAdjust="spacingAndGlyphs" stroke="#000" stroke-width="0.4">1,400.65</text>
<text x="730.50" y="898.12" font-size="10.6" font-weight="normal" font-style="normal" fill="#000" textLength="42.62" lengthAdjust="spacingAndGlyphs" stroke="#000" stroke-width="0.4">2,898.83</text>
<text x="806.41" y="898.12" font-size="10.6" font-weight="normal" font-style="normal" fill="#000" textLength="27.40" lengthAdjust="spacingAndGlyphs" stroke="#000" stroke-width="0.4">13.88</text>
<text x="866.10" y="898.12" font-size="10.6" font-weight="normal" font-style="normal" fill="#000" textLength="42.62" lengthAdjust="spacingAndGlyphs" stroke="#000" stroke-width="0.4">1,398.47</text>
<text x="204.83" y="914.38" font-size="10.6" font-weight="normal" font-style="normal" fill="#000" stroke="#000" stroke-width="0.4">2</text>
<text x="264.37" y="914.38" font-size="10.6" font-weight="normal" font-style="normal" fill="#000" textLength="29.72" lengthAdjust="spacingAndGlyphs" stroke="#000" stroke-width="0.4">water</text>
<text x="327.15" y="914.38" font-size="10.6" font-weight="normal" font-style="normal" fill="#000" textLength="33.49" lengthAdjust="spacingAndGlyphs" stroke="#000" stroke-width="0.4">0.4625</text>
<text x="390.40" y="914.38" font-size="10.6" font-weight="normal" font-style="normal" fill="#000" textLength="42.62" lengthAdjust="spacingAndGlyphs" stroke="#000" stroke-width="0.4">1,930.00</text>
<text x="458.70" y="914.38" font-size="10.6" font-weight="normal" font-style="normal" fill="#000" textLength="42.62" lengthAdjust="spacingAndGlyphs" stroke="#000" stroke-width="0.4">1,934.60</text>
<text x="526.30" y="914.38" font-size="10.6" font-weight="normal" font-style="normal" fill="#000" textLength="42.62" lengthAdjust="spacingAndGlyphs" stroke="#000" stroke-width="0.4">1,933.38</text>
<text x="594.69" y="914.38" font-size="10.6" font-weight="normal" font-style="normal" fill="#000" textLength="41.81" lengthAdjust="spacingAndGlyphs" stroke="#000" stroke-width="0.4">6,343.11</text>
<text x="662.20" y="914.38" font-size="10.6" font-weight="normal" font-style="normal" fill="#000" textLength="42.62" lengthAdjust="spacingAndGlyphs" stroke="#000" stroke-width="0.4">1,410.58</text>
<text x="730.50" y="914.38" font-size="10.6" font-weight="normal" font-style="normal" fill="#000" textLength="42.62" lengthAdjust="spacingAndGlyphs" stroke="#000" stroke-width="0.4">2,912.71</text>
<text x="806.41" y="914.38" font-size="10.6" font-weight="normal" font-style="normal" fill="#000" textLength="27.40" lengthAdjust="spacingAndGlyphs" stroke="#000" stroke-width="0.4">15.07</text>
<text x="866.10" y="914.38" font-size="10.6" font-weight="normal" font-style="normal" fill="#000" textLength="42.62" lengthAdjust="spacingAndGlyphs" stroke="#000" stroke-width="0.4">1,401.71</text>
<text x="204.83" y="930.64" font-size="10.6" font-weight="normal" font-style="normal" fill="#000" stroke="#000" stroke-width="0.4">1</text>
<text x="266.55" y="930.64" font-size="10.6" font-weight="normal" font-style="normal" fill="#000" textLength="25.35" lengthAdjust="spacingAndGlyphs" stroke="#000" stroke-width="0.4">none</text>
<text x="327.15" y="930.64" font-size="10.6" font-weight="normal" font-style="normal" fill="#000" textLength="33.49" lengthAdjust="spacingAndGlyphs" stroke="#000" stroke-width="0.4">0.0000</text>
<text x="390.40" y="930.64" font-size="10.6" font-weight="normal" font-style="normal" fill="#000" textLength="42.62" lengthAdjust="spacingAndGlyphs" stroke="#000" stroke-width="0.4">1,940.00</text>
<text x="458.70" y="930.64" font-size="10.6" font-weight="normal" font-style="normal" fill="#000" textLength="42.62" lengthAdjust="spacingAndGlyphs" stroke="#000" stroke-width="0.4">1,944.60</text>
<text x="526.30" y="930.64" font-size="10.6" font-weight="normal" font-style="normal" fill="#000" textLength="42.62" lengthAdjust="spacingAndGlyphs" stroke="#000" stroke-width="0.4">1,943.31</text>
<text x="594.30" y="930.64" font-size="10.6" font-weight="normal" font-style="normal" fill="#000" textLength="42.62" lengthAdjust="spacingAndGlyphs" stroke="#000" stroke-width="0.4">6,375.69</text>
<text x="662.20" y="930.64" font-size="10.6" font-weight="normal" font-style="normal" fill="#000" textLength="42.62" lengthAdjust="spacingAndGlyphs" stroke="#000" stroke-width="0.4">1,420.51</text>
<text x="730.50" y="930.64" font-size="10.6" font-weight="normal" font-style="normal" fill="#000" textLength="42.62" lengthAdjust="spacingAndGlyphs" stroke="#000" stroke-width="0.4">2,927.78</text>
<text x="809.42" y="930.64" font-size="10.6" font-weight="normal" font-style="normal" fill="#000" textLength="21.31" lengthAdjust="spacingAndGlyphs" stroke="#000" stroke-width="0.4">0.00</text>
<text x="876.72" y="930.64" font-size="10.6" font-weight="normal" font-style="normal" fill="#000" textLength="21.31" lengthAdjust="spacingAndGlyphs" stroke="#000" stroke-width="0.4">0.00</text>
<rect x="949" y="280" width="590" height="423" fill="#e5e8ea"/>
<text x="991.50" y="399.70" font-size="10.6" font-weight="normal" font-style="normal" fill="#444" textLength="25.00" lengthAdjust="spacingAndGlyphs">1100</text>
<text x="991.50" y="435.53" font-size="10.6" font-weight="normal" font-style="normal" fill="#444" textLength="25.00" lengthAdjust="spacingAndGlyphs">1150</text>
<text x="991.50" y="471.37" font-size="10.6" font-weight="normal" font-style="normal" fill="#444" textLength="25.05" lengthAdjust="spacingAndGlyphs">1200</text>
<text x="991.50" y="507.20" font-size="10.6" font-weight="normal" font-style="normal" fill="#444" textLength="25.05" lengthAdjust="spacingAndGlyphs">1250</text>
<text x="991.50" y="543.04" font-size="10.6" font-weight="normal" font-style="normal" fill="#444" textLength="25.05" lengthAdjust="spacingAndGlyphs">1300</text>
<text x="991.50" y="578.88" font-size="10.6" font-weight="normal" font-style="normal" fill="#444" textLength="25.05" lengthAdjust="spacingAndGlyphs">1350</text>
<text x="991.50" y="614.71" font-size="10.6" font-weight="normal" font-style="normal" fill="#444" textLength="25.05" lengthAdjust="spacingAndGlyphs">1400</text>
<rect x="1016" y="366" width="445" height="270" fill="#fbfcfc"/>
<text x="1015.27" y="646.90" font-size="11.2" font-weight="normal" font-style="normal" fill="#444">2500</text>
<text x="1114.07" y="646.90" font-size="11.2" font-weight="normal" font-style="normal" fill="#444">2600</text>
<text x="1212.87" y="646.90" font-size="11.2" font-weight="normal" font-style="normal" fill="#444">2700</text>
<text x="1311.67" y="646.90" font-size="11.2" font-weight="normal" font-style="normal" fill="#444">2800</text>
<text x="1410.47" y="646.90" font-size="11.2" font-weight="normal" font-style="normal" fill="#444">2900</text>
<line x1="1041.3" y1="517.0" x2="1435.5" y2="517.0" stroke="#333" stroke-width="1.3" stroke-dasharray="2,2.85"/>
<polyline points="1041.29,382.74 1051.84,389.91 1062.64,397.08 1073.22,404.23 1083.86,411.40 1094.33,418.57 1104.69,425.73 1115.41,432.89 1126.02,440.06 1136.74,447.22 1146.95,454.38 1157.47,461.54 1168.36,468.69 1178.82,475.85 1189.16,483.01 1200.19,490.16 1210.48,497.31 1221.24,504.46 1231.66,511.61" fill="none" stroke="#4a4a4a" stroke-width="0.9"/>
<circle cx="1041.29" cy="382.74" r="2.45" fill="#0a5a12"/>
<circle cx="1051.84" cy="389.91" r="2.45" fill="#0a5a12"/>
<circle cx="1062.64" cy="397.08" r="2.45" fill="#0a5a12"/>
<circle cx="1073.22" cy="404.23" r="2.45" fill="#0a5a12"/>
<circle cx="1083.86" cy="411.40" r="2.45" fill="#0a5a12"/>
<circle cx="1094.33" cy="418.57" r="2.45" fill="#0a5a12"/>
<circle cx="1104.69" cy="425.73" r="2.45" fill="#0a5a12"/>
<circle cx="1115.41" cy="432.89" r="2.45" fill="#0a5a12"/>
<circle cx="1126.02" cy="440.06" r="2.45" fill="#0a5a12"/>
<circle cx="1136.74" cy="447.22" r="2.45" fill="#0a5a12"/>
<circle cx="1146.95" cy="454.38" r="2.45" fill="#0a5a12"/>
<circle cx="1157.47" cy="461.54" r="2.45" fill="#0a5a12"/>
<circle cx="1168.36" cy="468.69" r="2.45" fill="#0a5a12"/>
<circle cx="1178.82" cy="475.85" r="2.45" fill="#0a5a12"/>
<circle cx="1189.16" cy="483.01" r="2.45" fill="#0a5a12"/>
<circle cx="1200.19" cy="490.16" r="2.45" fill="#0a5a12"/>
<circle cx="1210.48" cy="497.31" r="2.45" fill="#0a5a12"/>
<circle cx="1221.24" cy="504.46" r="2.45" fill="#0a5a12"/>
<circle cx="1231.66" cy="511.61" r="2.45" fill="#0a5a12"/>
<polyline points="1243.07,518.76 1256.80,525.91 1270.26,533.05 1284.29,540.20 1298.27,547.34 1312.17,554.47 1325.71,561.61 1339.09,568.74 1352.94,575.86 1366.81,582.99 1380.64,590.10 1394.38,597.24 1407.77,604.35 1421.74,611.48 1435.46,618.59" fill="none" stroke="#4a4a4a" stroke-width="0.9"/>
<circle cx="1243.07" cy="518.76" r="2.45" fill="#0a0a5a"/>
<circle cx="1256.80" cy="525.91" r="2.45" fill="#0a0a5a"/>
<circle cx="1270.26" cy="533.05" r="2.45" fill="#0a0a5a"/>
<circle cx="1284.29" cy="540.20" r="2.45" fill="#0a0a5a"/>
<circle cx="1298.27" cy="547.34" r="2.45" fill="#0a0a5a"/>
<circle cx="1312.17" cy="554.47" r="2.45" fill="#0a0a5a"/>
<circle cx="1325.71" cy="561.61" r="2.45" fill="#0a0a5a"/>
<circle cx="1339.09" cy="568.74" r="2.45" fill="#0a0a5a"/>
<circle cx="1352.94" cy="575.86" r="2.45" fill="#0a0a5a"/>
<circle cx="1366.81" cy="582.99" r="2.45" fill="#0a0a5a"/>
<circle cx="1380.64" cy="590.10" r="2.45" fill="#0a0a5a"/>
<circle cx="1394.38" cy="597.24" r="2.45" fill="#0a0a5a"/>
<circle cx="1407.77" cy="604.35" r="2.45" fill="#0a0a5a"/>
<circle cx="1421.74" cy="611.48" r="2.45" fill="#0a0a5a"/>
<circle cx="1435.46" cy="618.59" r="2.45" fill="#0a0a5a"/>
<rect x="1372" y="368" width="167" height="57" fill="#e5e8ea"/>
<line x1="1375.5" y1="380.5" x2="1400.5" y2="380.5" stroke="#5a5a5a" stroke-width="1"/>
<circle cx="1388.7" cy="380.5" r="2.8" fill="#0a5a12"/>
<text x="1405.70" y="384.10" font-size="9.9" font-weight="normal" font-style="normal" fill="#444" textLength="87.15" lengthAdjust="spacingAndGlyphs">Oil: 0.3265 psi/ft</text>
<line x1="1375.5" y1="396.4" x2="1400.5" y2="396.4" stroke="#5a5a5a" stroke-width="1"/>
<circle cx="1388.7" cy="396.4" r="2.8" fill="#0a0a5a"/>
<text x="1405.70" y="400.00" font-size="9.9" font-weight="normal" font-style="normal" fill="#444" textLength="103.52" lengthAdjust="spacingAndGlyphs">Water: 0.4262 psi/ft</text>
<line x1="1375.5" y1="412.9" x2="1400" y2="412.9" stroke="#333" stroke-width="1.2" stroke-dasharray="3,2.2"/>
<clipPath id="lc1"><rect x="1370" y="400" width="170" height="16.2"/></clipPath><g clip-path="url(#lc1)">
<text x="1405.70" y="416.50" font-size="9.9" font-weight="normal" font-style="normal" fill="#444" textLength="23.49" lengthAdjust="spacingAndGlyphs">FWL:</text>
<text x="1432.00" y="416.50" font-size="9.9" font-weight="bold" font-style="normal" fill="#444" textLength="45.05" lengthAdjust="spacingAndGlyphs">1268.76</text>
<text x="1480.50" y="416.50" font-size="9.9" font-weight="normal" font-style="normal" fill="#444" textLength="42.73" lengthAdjust="spacingAndGlyphs">mTVDss</text>
</g>
<text x="1120.00" y="323.90" font-size="14.8" font-weight="bold" font-style="normal" fill="#2c3d58" textLength="247.96" lengthAdjust="spacingAndGlyphs">Well-XX Static Gradient Survey</text>
<text x="1202.05" y="341.90" font-size="13.4" font-weight="normal" font-style="normal" fill="#444" textLength="84.38" lengthAdjust="spacingAndGlyphs">2021-09-19</text>
<text x="1211.95" y="668.70" font-size="10.6" font-weight="bold" font-style="normal" fill="#2c3d58" textLength="53.14" lengthAdjust="spacingAndGlyphs">BHP, psi</text>
<g transform="translate(968.5,501.0) rotate(-90)">
<text x="-30.10" y="0.00" font-size="10.6" font-weight="bold" font-style="normal" fill="#2c3d58" textLength="60.16" lengthAdjust="spacingAndGlyphs">TVDss, m</text>
</g>
<rect x="949" y="708" width="590" height="411" fill="#e5e8ea"/>
<text x="991.50" y="826.50" font-size="10.6" font-weight="normal" font-style="normal" fill="#444" textLength="25.00" lengthAdjust="spacingAndGlyphs">1100</text>
<text x="991.50" y="862.34" font-size="10.6" font-weight="normal" font-style="normal" fill="#444" textLength="25.00" lengthAdjust="spacingAndGlyphs">1150</text>
<text x="991.50" y="898.17" font-size="10.6" font-weight="normal" font-style="normal" fill="#444" textLength="25.05" lengthAdjust="spacingAndGlyphs">1200</text>
<text x="991.50" y="934.00" font-size="10.6" font-weight="normal" font-style="normal" fill="#444" textLength="25.05" lengthAdjust="spacingAndGlyphs">1250</text>
<text x="991.50" y="969.84" font-size="10.6" font-weight="normal" font-style="normal" fill="#444" textLength="25.05" lengthAdjust="spacingAndGlyphs">1300</text>
<text x="991.50" y="1005.67" font-size="10.6" font-weight="normal" font-style="normal" fill="#444" textLength="25.05" lengthAdjust="spacingAndGlyphs">1350</text>
<text x="991.50" y="1041.51" font-size="10.6" font-weight="normal" font-style="normal" fill="#444" textLength="25.05" lengthAdjust="spacingAndGlyphs">1400</text>
<rect x="1016" y="792.8" width="445" height="270.0" fill="#fbfcfc"/>
<text x="1070.77" y="1073.70" font-size="11.2" font-weight="normal" font-style="normal" fill="#444">1360</text>
<text x="1155.17" y="1073.70" font-size="11.2" font-weight="normal" font-style="normal" fill="#444">1370</text>
<text x="1239.57" y="1073.70" font-size="11.2" font-weight="normal" font-style="normal" fill="#444">1380</text>
<text x="1323.97" y="1073.70" font-size="11.2" font-weight="normal" font-style="normal" fill="#444">1390</text>
<text x="1408.37" y="1073.70" font-size="11.2" font-weight="normal" font-style="normal" fill="#444">1400</text>
<line x1="1041.5" y1="943.8" x2="1435.2" y2="943.8" stroke="#333" stroke-width="1.3" stroke-dasharray="2,2.85"/>
<polyline points="1043.28,809.54 1042.94,816.71 1044.71,823.88 1044.80,831.03 1045.30,838.20 1044.29,845.37 1042.52,852.53 1043.79,859.69 1043.95,866.86 1045.22,874.02 1042.10,881.18 1041.68,888.34 1044.38,895.49 1043.53,902.65 1041.51,909.81 1045.47,916.96 1043.19,924.11 1044.97,931.26 1043.79,938.41" fill="none" stroke="#4a4a4a" stroke-width="0.9"/>
<circle cx="1043.28" cy="809.54" r="2.45" fill="#0a5a12"/>
<circle cx="1042.94" cy="816.71" r="2.45" fill="#0a5a12"/>
<circle cx="1044.71" cy="823.88" r="2.45" fill="#0a5a12"/>
<circle cx="1044.80" cy="831.03" r="2.45" fill="#0a5a12"/>
<circle cx="1045.30" cy="838.20" r="2.45" fill="#0a5a12"/>
<circle cx="1044.29" cy="845.37" r="2.45" fill="#0a5a12"/>
<circle cx="1042.52" cy="852.53" r="2.45" fill="#0a5a12"/>
<circle cx="1043.79" cy="859.69" r="2.45" fill="#0a5a12"/>
<circle cx="1043.95" cy="866.86" r="2.45" fill="#0a5a12"/>
<circle cx="1045.22" cy="874.02" r="2.45" fill="#0a5a12"/>
<circle cx="1042.10" cy="881.18" r="2.45" fill="#0a5a12"/>
<circle cx="1041.68" cy="888.34" r="2.45" fill="#0a5a12"/>
<circle cx="1044.38" cy="895.49" r="2.45" fill="#0a5a12"/>
<circle cx="1043.53" cy="902.65" r="2.45" fill="#0a5a12"/>
<circle cx="1041.51" cy="909.81" r="2.45" fill="#0a5a12"/>
<circle cx="1045.47" cy="916.96" r="2.45" fill="#0a5a12"/>
<circle cx="1043.19" cy="924.11" r="2.45" fill="#0a5a12"/>
<circle cx="1044.97" cy="931.26" r="2.45" fill="#0a5a12"/>
<circle cx="1043.79" cy="938.41" r="2.45" fill="#0a5a12"/>
<polyline points="1051.04,945.56 1078.14,952.71 1103.12,959.85 1132.74,967.00 1162.20,974.14 1190.89,981.27 1216.47,988.41 1240.77,995.54 1269.30,1002.66 1297.91,1009.79 1326.36,1016.90 1353.62,1024.04 1378.26,1031.15 1407.89,1038.28 1435.23,1045.39" fill="none" stroke="#4a4a4a" stroke-width="0.9"/>
<circle cx="1051.04" cy="945.56" r="2.45" fill="#0a0a5a"/>
<circle cx="1078.14" cy="952.71" r="2.45" fill="#0a0a5a"/>
<circle cx="1103.12" cy="959.85" r="2.45" fill="#0a0a5a"/>
<circle cx="1132.74" cy="967.00" r="2.45" fill="#0a0a5a"/>
<circle cx="1162.20" cy="974.14" r="2.45" fill="#0a0a5a"/>
<circle cx="1190.89" cy="981.27" r="2.45" fill="#0a0a5a"/>
<circle cx="1216.47" cy="988.41" r="2.45" fill="#0a0a5a"/>
<circle cx="1240.77" cy="995.54" r="2.45" fill="#0a0a5a"/>
<circle cx="1269.30" cy="1002.66" r="2.45" fill="#0a0a5a"/>
<circle cx="1297.91" cy="1009.79" r="2.45" fill="#0a0a5a"/>
<circle cx="1326.36" cy="1016.90" r="2.45" fill="#0a0a5a"/>
<circle cx="1353.62" cy="1024.04" r="2.45" fill="#0a0a5a"/>
<circle cx="1378.26" cy="1031.15" r="2.45" fill="#0a0a5a"/>
<circle cx="1407.89" cy="1038.28" r="2.45" fill="#0a0a5a"/>
<circle cx="1435.23" cy="1045.39" r="2.45" fill="#0a0a5a"/>
<rect x="1372" y="794.7" width="167" height="56" fill="#e5e8ea"/>
<line x1="1375.5" y1="807.0" x2="1400.5" y2="807.0" stroke="#c8cdd8" stroke-width="1"/>
<circle cx="1388.7" cy="807.0" r="2.8" fill="#0a5a12"/>
<text x="1405.70" y="810.60" font-size="9.9" font-weight="normal" font-style="normal" fill="#444" textLength="87.15" lengthAdjust="spacingAndGlyphs">Oil: 0.3265 psi/ft</text>
<line x1="1375.5" y1="823.0" x2="1400.5" y2="823.0" stroke="#c8cdd8" stroke-width="1"/>
<circle cx="1388.7" cy="823.0" r="2.8" fill="#0a0a5a"/>
<text x="1405.70" y="826.60" font-size="9.9" font-weight="normal" font-style="normal" fill="#444" textLength="103.52" lengthAdjust="spacingAndGlyphs">Water: 0.4262 psi/ft</text>
<line x1="1375.5" y1="838.9" x2="1400" y2="838.9" stroke="#c8cdd8" stroke-width="1.2" stroke-dasharray="3,2.2"/>
<text x="1405.70" y="842.50" font-size="9.9" font-weight="normal" font-style="normal" fill="#444" textLength="23.49" lengthAdjust="spacingAndGlyphs">FWL:</text>
<text x="1432.00" y="842.50" font-size="9.9" font-weight="bold" font-style="normal" fill="#444" textLength="45.05" lengthAdjust="spacingAndGlyphs">1268.76</text>
<text x="1480.50" y="842.50" font-size="9.9" font-weight="normal" font-style="normal" fill="#444" textLength="42.73" lengthAdjust="spacingAndGlyphs">mTVDss</text>
<text x="1035.00" y="750.00" font-size="14.8" font-weight="bold" font-style="normal" fill="#2c3d58" textLength="247.16" lengthAdjust="spacingAndGlyphs">Well-XX Static Gradient Survey</text>
<text x="1282.60" y="750.00" font-size="14.8" font-weight="bold" font-style="normal" fill="#2c3d58">,</text>
<text x="1294.70" y="750.00" font-size="14.8" font-weight="normal" font-style="normal" fill="#444" textLength="158.72" lengthAdjust="spacingAndGlyphs">Excess Pressure Chart</text>
<text x="1171.75" y="1095.20" font-size="10.6" font-weight="bold" font-style="normal" fill="#2c3d58" textLength="133.65" lengthAdjust="spacingAndGlyphs">Excess Pressure, psi</text>
<g transform="translate(968.5,927.8) rotate(-90)">
<text x="-30.10" y="0.00" font-size="10.6" font-weight="bold" font-style="normal" fill="#2c3d58" textLength="60.16" lengthAdjust="spacingAndGlyphs">TVDss, m</text>
</g>
</svg></body></html>
